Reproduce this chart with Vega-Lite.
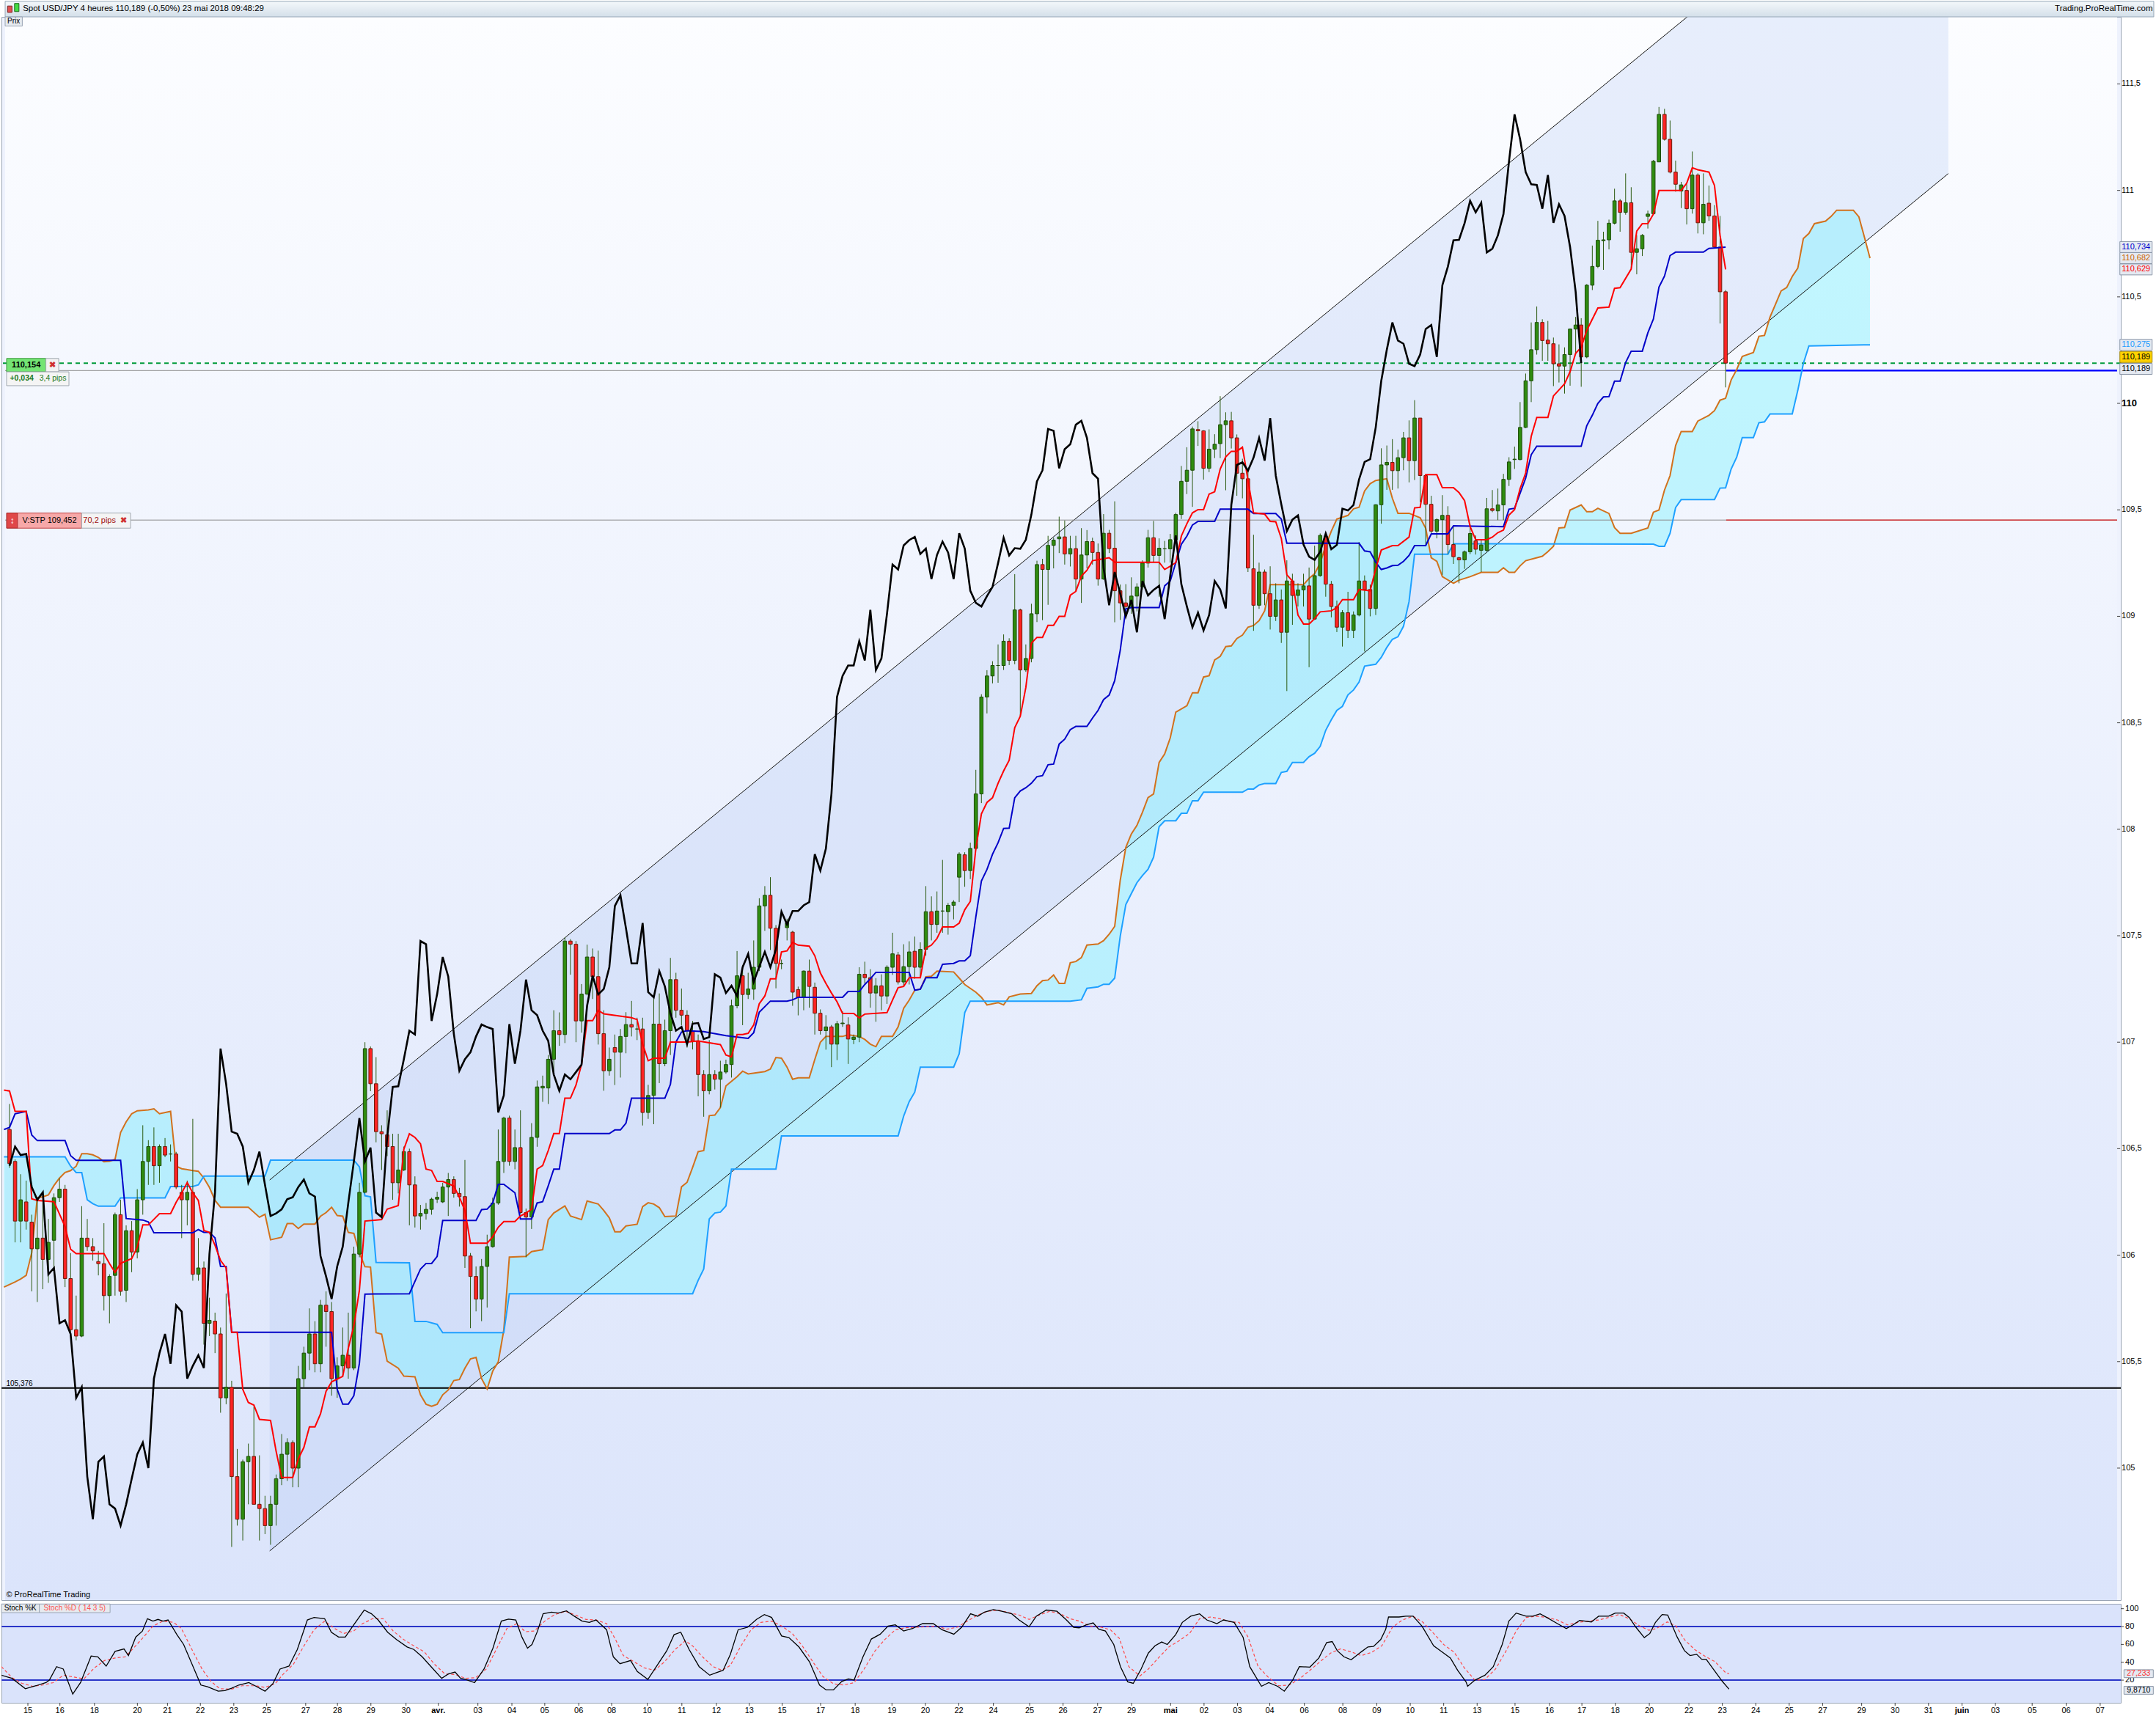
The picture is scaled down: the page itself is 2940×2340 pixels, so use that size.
{
"$schema":"https://vega.github.io/schema/vega-lite/v6.json",
"padding":0,
"background":"#ffffff",
"spacing":3,
"config":{"font":"Liberation Sans","view":{"stroke":"#9aa5b5"},"text":{"font":"Liberation Sans"}},
"datasets":{
"chan":[{"k":46.84,"lo":104.611,"hi":106.353},{"k":349.1,"lo":111.079,"hi":112.821}],
"yt":[{"v":105,"t":"105"},{"v":105.5,"t":"105,5"},{"v":106,"t":"106"},{"v":106.5,"t":"106,5"},{"v":107,"t":"107"},{"v":107.5,"t":"107,5"},{"v":108,"t":"108"},{"v":108.5,"t":"108,5"},{"v":109,"t":"109"},{"v":109.5,"t":"109,5"},{"v":110,"t":"110"},{"v":110.5,"t":"110,5"},{"v":111,"t":"111"},{"v":111.5,"t":"111,5"}],
"st":[{"v":20,"t":"20"},{"v":40,"t":"40"},{"v":60,"t":"60"},{"v":80,"t":"80"},{"v":100,"t":"100"}],
"xt":[{"k":3.95,"t":"15"},{"k":9.7,"t":"16"},{"k":15.9,"t":"18"},{"k":23.6,"t":"20"},{"k":29,"t":"21"},{"k":34.9,"t":"22"},{"k":40.9,"t":"23"},{"k":46.8,"t":"25"},{"k":53.8,"t":"27"},{"k":59.5,"t":"28"},{"k":65.5,"t":"29"},{"k":71.8,"t":"30"},{"k":77.6,"t":"avr."},{"k":84.7,"t":"03"},{"k":90.8,"t":"04"},{"k":96.7,"t":"05"},{"k":102.8,"t":"06"},{"k":108.7,"t":"08"},{"k":115.1,"t":"10"},{"k":121.3,"t":"11"},{"k":127.5,"t":"12"},{"k":133.4,"t":"13"},{"k":139.3,"t":"15"},{"k":146.2,"t":"17"},{"k":152.4,"t":"18"},{"k":159,"t":"19"},{"k":165,"t":"20"},{"k":171,"t":"22"},{"k":177.2,"t":"24"},{"k":183.7,"t":"25"},{"k":189.7,"t":"26"},{"k":195.9,"t":"27"},{"k":202,"t":"29"},{"k":209,"t":"mai"},{"k":215,"t":"02"},{"k":221,"t":"03"},{"k":226.8,"t":"04"},{"k":233,"t":"06"},{"k":239.9,"t":"08"},{"k":246,"t":"09"},{"k":252,"t":"10"},{"k":258,"t":"11"},{"k":264,"t":"13"},{"k":270.8,"t":"15"},{"k":277,"t":"16"},{"k":282.8,"t":"17"},{"k":288.8,"t":"18"},{"k":294.9,"t":"20"},{"k":302,"t":"22"},{"k":308,"t":"23"},{"k":314,"t":"24"},{"k":320,"t":"25"},{"k":326,"t":"27"},{"k":333,"t":"29"},{"k":339,"t":"30"},{"k":345,"t":"31"},{"k":351,"t":"juin"},{"k":357,"t":"03"},{"k":363.6,"t":"05"},{"k":369.7,"t":"06"},{"k":375.8,"t":"07"}],
"candles":[
{"k":0,"o":106.59,"h":106.71,"l":106.41,"c":106.43,"ck":106.42},
{"k":1,"o":106.44,"h":106.45,"l":106.06,"c":106.16,"ck":106.51},
{"k":2,"o":106.16,"h":106.38,"l":106.06,"c":106.26,"ck":106.47},
{"k":3,"o":106.25,"h":106.35,"l":106.12,"c":106.16,"ck":106.475},
{"k":4,"o":106.155,"h":106.19,"l":105.83,"c":106.03,"ck":106.32},
{"k":5,"o":106.03,"h":106.26,"l":105.78,"c":106.08,"ck":106.26},
{"k":6,"o":106.08,"h":106.29,"l":105.84,"c":105.98,"ck":106.295},
{"k":7,"o":105.98,"h":106.17,"l":105.87,"c":106.06,"ck":105.91},
{"k":8,"o":106.07,"h":106.29,"l":105.94,"c":106.27,"ck":105.94},
{"k":9,"o":106.27,"h":106.36,"l":106.25,"c":106.31,"ck":105.68},
{"k":10,"o":106.31,"h":106.33,"l":105.85,"c":105.89,"ck":105.694},
{"k":11,"o":105.89,"h":106.01,"l":105.64,"c":105.65,"ck":105.63},
{"k":12,"o":105.65,"h":105.81,"l":105.6,"c":105.62,"ck":105.33},
{"k":13,"o":105.62,"h":106.23,"l":105.615,"c":106.08,"ck":105.38},
{"k":14,"o":106.08,"h":106.17,"l":106.02,"c":106.04,"ck":104.96},
{"k":15,"o":106.04,"h":106.08,"l":105.975,"c":106.02,"ck":104.76},
{"k":16,"o":105.97,"h":106.02,"l":105.905,"c":105.96,"ck":105.03},
{"k":17,"o":105.96,"h":106.15,"l":105.74,"c":105.81,"ck":105.055},
{"k":18,"o":105.81,"h":105.91,"l":105.68,"c":105.9,"ck":104.83},
{"k":19,"o":105.905,"h":106.2,"l":105.81,"c":106.19,"ck":104.81},
{"k":20,"o":106.19,"h":106.26,"l":105.81,"c":105.83,"ck":104.73},
{"k":21,"o":105.835,"h":106.14,"l":105.78,"c":106.115,"ck":104.83},
{"k":22,"o":106.115,"h":106.16,"l":105.92,"c":106.015,"ck":104.95},
{"k":23,"o":106.015,"h":106.31,"l":105.985,"c":106.26,"ck":105.065},
{"k":24,"o":106.26,"h":106.61,"l":106.19,"c":106.44,"ck":105.12},
{"k":25,"o":106.44,"h":106.54,"l":106.33,"c":106.51,"ck":105.0},
{"k":26,"o":106.51,"h":106.6,"l":106.33,"c":106.42,"ck":105.42},
{"k":27,"o":106.42,"h":106.52,"l":106.34,"c":106.51,"ck":105.54},
{"k":28,"o":106.51,"h":106.55,"l":106.46,"c":106.47,"ck":105.63},
{"k":29,"o":106.475,"h":106.52,"l":106.44,"c":106.475,"ck":105.49},
{"k":30,"o":106.475,"h":106.485,"l":106.31,"c":106.32,"ck":105.765},
{"k":31,"o":106.295,"h":106.33,"l":106.08,"c":106.26,"ck":105.735},
{"k":32,"o":106.26,"h":106.35,"l":106.14,"c":106.295,"ck":105.42},
{"k":33,"o":106.295,"h":106.64,"l":105.88,"c":105.91,"ck":105.48},
{"k":34,"o":105.91,"h":106.08,"l":105.88,"c":105.94,"ck":105.53},
{"k":35,"o":105.94,"h":105.97,"l":105.58,"c":105.68,"ck":105.47},
{"k":36,"o":105.68,"h":105.8,"l":105.62,"c":105.694,"ck":106.005},
{"k":37,"o":105.69,"h":105.73,"l":105.54,"c":105.63,"ck":106.295},
{"k":38,"o":105.63,"h":105.66,"l":105.26,"c":105.33,"ck":106.97},
{"k":39,"o":105.33,"h":105.82,"l":105.3,"c":105.38,"ck":106.805},
{"k":40,"o":105.38,"h":105.41,"l":104.63,"c":104.96,"ck":106.58},
{"k":41,"o":104.96,"h":105.09,"l":104.73,"c":104.76,"ck":106.57},
{"k":42,"o":104.76,"h":105.04,"l":104.66,"c":105.03,"ck":106.51},
{"k":43,"o":105.03,"h":105.115,"l":104.83,"c":105.055,"ck":106.34},
{"k":44,"o":105.055,"h":105.29,"l":104.83,"c":104.83,"ck":106.4},
{"k":45,"o":104.83,"h":105.06,"l":104.66,"c":104.81,"ck":106.486},
{"k":46,"o":104.81,"h":104.87,"l":104.69,"c":104.73,"ck":106.33},
{"k":47,"o":104.73,"h":104.87,"l":104.64,"c":104.83,"ck":106.184},
{"k":48,"o":104.83,"h":104.97,"l":104.73,"c":104.95,"ck":106.196},
{"k":49,"o":104.95,"h":105.16,"l":104.92,"c":105.065,"ck":106.215},
{"k":50,"o":105.065,"h":105.14,"l":104.94,"c":105.12,"ck":106.263},
{"k":51,"o":105.12,"h":105.13,"l":104.91,"c":105.0,"ck":106.272},
{"k":52,"o":105.0,"h":105.48,"l":104.91,"c":105.42,"ck":106.32},
{"k":53,"o":105.42,"h":105.57,"l":105.38,"c":105.54,"ck":106.355},
{"k":54,"o":105.54,"h":105.75,"l":105.46,"c":105.63,"ck":106.29},
{"k":55,"o":105.63,"h":105.69,"l":105.45,"c":105.49,"ck":106.275},
{"k":56,"o":105.49,"h":105.79,"l":105.45,"c":105.765,"ck":105.996},
{"k":57,"o":105.765,"h":105.83,"l":105.57,"c":105.735,"ck":105.9},
{"k":58,"o":105.735,"h":105.78,"l":105.34,"c":105.42,"ck":105.794},
{"k":59,"o":105.42,"h":105.52,"l":105.33,"c":105.48,"ck":105.947},
{"k":60,"o":105.48,"h":105.66,"l":105.43,"c":105.53,"ck":106.04},
{"k":61,"o":105.53,"h":105.73,"l":105.42,"c":105.47,"ck":106.245},
{"k":62,"o":105.47,"h":106.04,"l":105.46,"c":106.005,"ck":106.44},
{"k":63,"o":106.005,"h":106.34,"l":105.99,"c":106.295,"ck":106.644},
{"k":64,"o":106.295,"h":107.0,"l":106.29,"c":106.97,"ck":106.44},
{"k":65,"o":106.97,"h":106.98,"l":106.77,"c":106.805,"ck":106.505},
{"k":66,"o":106.805,"h":106.93,"l":106.53,"c":106.58,"ck":106.2},
{"k":67,"o":106.58,"h":106.61,"l":106.4,"c":106.57,"ck":106.179},
{"k":68,"o":106.565,"h":106.68,"l":106.465,"c":106.51,"ck":106.553},
{"k":69,"o":106.51,"h":106.57,"l":106.26,"c":106.34,"ck":106.79},
{"k":70,"o":106.34,"h":106.57,"l":106.29,"c":106.4,"ck":106.793},
{"k":71,"o":106.4,"h":106.51,"l":106.395,"c":106.486,"ck":106.92},
{"k":72,"o":106.486,"h":106.5,"l":106.14,"c":106.33,"ck":107.054},
{"k":73,"o":106.33,"h":106.37,"l":106.13,"c":106.184,"ck":107.036},
{"k":74,"o":106.184,"h":106.236,"l":106.12,"c":106.196,"ck":107.475},
{"k":75,"o":106.196,"h":106.245,"l":106.167,"c":106.215,"ck":107.46},
{"k":76,"o":106.215,"h":106.27,"l":106.19,"c":106.263,"ck":107.1},
{"k":77,"o":106.263,"h":106.298,"l":106.245,"c":106.272,"ck":107.226},
{"k":78,"o":106.25,"h":106.34,"l":106.245,"c":106.32,"ck":107.4},
{"k":79,"o":106.32,"h":106.386,"l":106.184,"c":106.355,"ck":107.308},
{"k":80,"o":106.355,"h":106.37,"l":106.27,"c":106.29,"ck":107.04},
{"k":81,"o":106.29,"h":106.316,"l":106.228,"c":106.275,"ck":106.866},
{"k":82,"o":106.275,"h":106.447,"l":105.94,"c":105.996,"ck":106.92},
{"k":83,"o":105.996,"h":106.01,"l":105.657,"c":105.9,"ck":106.953},
{"k":84,"o":105.9,"h":105.947,"l":105.736,"c":105.794,"ck":107.027},
{"k":85,"o":105.794,"h":105.982,"l":105.69,"c":105.947,"ck":107.083},
{"k":86,"o":105.947,"h":106.096,"l":105.754,"c":106.04,"ck":107.071},
{"k":87,"o":106.04,"h":106.27,"l":106.035,"c":106.245,"ck":107.062},
{"k":88,"o":106.245,"h":106.59,"l":106.237,"c":106.44,"ck":106.67},
{"k":89,"o":106.44,"h":106.65,"l":106.386,"c":106.644,"ck":106.75},
{"k":90,"o":106.644,"h":106.655,"l":106.42,"c":106.44,"ck":107.085},
{"k":91,"o":106.44,"h":106.59,"l":106.403,"c":106.505,"ck":106.899},
{"k":92,"o":106.505,"h":106.68,"l":106.193,"c":106.2,"ck":107.054},
{"k":93,"o":106.2,"h":106.219,"l":105.99,"c":106.179,"ck":107.294},
{"k":94,"o":106.179,"h":106.62,"l":106.123,"c":106.553,"ck":107.15},
{"k":95,"o":106.553,"h":106.82,"l":106.509,"c":106.79,"ck":107.127},
{"k":96,"o":106.785,"h":106.843,"l":106.72,"c":106.793,"ck":107.054},
{"k":97,"o":106.785,"h":106.94,"l":106.71,"c":106.92,"ck":107.006},
{"k":98,"o":106.92,"h":107.15,"l":106.86,"c":107.054,"ck":106.848},
{"k":99,"o":107.054,"h":107.14,"l":106.983,"c":107.036,"ck":106.772},
{"k":100,"o":107.036,"h":107.493,"l":106.996,"c":107.475,"ck":106.848},
{"k":101,"o":107.475,"h":107.484,"l":107.317,"c":107.46,"ck":106.826},
{"k":102,"o":107.46,"h":107.475,"l":107.0,"c":107.1,"ck":106.86},
{"k":103,"o":107.1,"h":107.273,"l":107.045,"c":107.226,"ck":106.895},
{"k":104,"o":107.226,"h":107.458,"l":107.22,"c":107.4,"ck":107.171},
{"k":105,"o":107.4,"h":107.44,"l":107.203,"c":107.308,"ck":107.312},
{"k":106,"o":107.308,"h":107.43,"l":106.989,"c":107.04,"ck":107.224},
{"k":107,"o":107.04,"h":107.15,"l":106.772,"c":106.866,"ck":107.25},
{"k":108,"o":106.866,"h":106.975,"l":106.843,"c":106.92,"ck":107.352},
{"k":109,"o":106.975,"h":107.036,"l":106.799,"c":106.953,"ck":107.64},
{"k":110,"o":106.953,"h":107.062,"l":106.834,"c":107.027,"ck":107.69},
{"k":111,"o":107.027,"h":107.141,"l":106.948,"c":107.083,"ck":107.535},
{"k":112,"o":107.083,"h":107.194,"l":107.027,"c":107.071,"ck":107.37},
{"k":113,"o":107.062,"h":107.115,"l":107.01,"c":107.062,"ck":107.37},
{"k":114,"o":107.062,"h":107.115,"l":106.609,"c":106.67,"ck":107.56},
{"k":115,"o":106.67,"h":106.8,"l":106.64,"c":106.75,"ck":107.235},
{"k":116,"o":106.75,"h":107.21,"l":106.615,"c":107.085,"ck":107.211},
{"k":117,"o":107.085,"h":107.229,"l":106.808,"c":106.899,"ck":107.334},
{"k":118,"o":106.899,"h":107.106,"l":106.887,"c":107.054,"ck":107.262},
{"k":119,"o":107.054,"h":107.396,"l":106.94,"c":107.294,"ck":107.136},
{"k":120,"o":107.294,"h":107.326,"l":107.115,"c":107.15,"ck":107.054},
{"k":121,"o":107.15,"h":107.252,"l":107.08,"c":107.127,"ck":107.072},
{"k":122,"o":107.127,"h":107.15,"l":106.975,"c":107.054,"ck":106.991},
{"k":123,"o":107.054,"h":107.1,"l":106.966,"c":107.006,"ck":107.087},
{"k":124,"o":107.006,"h":107.036,"l":106.746,"c":106.848,"ck":107.09},
{"k":125,"o":106.848,"h":106.869,"l":106.65,"c":106.772,"ck":107.015},
{"k":126,"o":106.772,"h":107.01,"l":106.755,"c":106.848,"ck":107.024},
{"k":127,"o":106.848,"h":106.869,"l":106.778,"c":106.826,"ck":107.319},
{"k":128,"o":106.826,"h":106.913,"l":106.693,"c":106.86,"ck":107.303},
{"k":129,"o":106.86,"h":106.918,"l":106.852,"c":106.895,"ck":107.231},
{"k":130,"o":106.895,"h":107.2,"l":106.834,"c":107.171,"ck":107.265},
{"k":131,"o":107.171,"h":107.428,"l":107.159,"c":107.312,"ck":107.217},
{"k":132,"o":107.312,"h":107.361,"l":107.08,"c":107.224,"ck":107.352},
{"k":133,"o":107.224,"h":107.326,"l":107.203,"c":107.25,"ck":107.415},
{"k":134,"o":107.249,"h":107.478,"l":107.199,"c":107.352,"ck":107.283},
{"k":135,"o":107.352,"h":107.676,"l":107.334,"c":107.64,"ck":107.355},
{"k":136,"o":107.64,"h":107.733,"l":107.523,"c":107.69,"ck":107.424},
{"k":137,"o":107.69,"h":107.775,"l":107.433,"c":107.535,"ck":107.352},
{"k":138,"o":107.535,"h":107.55,"l":107.253,"c":107.37,"ck":107.436},
{"k":139,"o":107.37,"h":107.388,"l":107.343,"c":107.37,"ck":107.613},
{"k":140,"o":107.538,"h":107.58,"l":107.478,"c":107.56,"ck":107.553},
{"k":141,"o":107.517,"h":107.523,"l":107.171,"c":107.235,"ck":107.616},
{"k":142,"o":107.247,"h":107.261,"l":107.126,"c":107.211,"ck":107.616},
{"k":143,"o":107.211,"h":107.337,"l":107.15,"c":107.334,"ck":107.643},
{"k":144,"o":107.334,"h":107.388,"l":107.162,"c":107.262,"ck":107.658},
{"k":145,"o":107.258,"h":107.28,"l":107.036,"c":107.136,"ck":107.883},
{"k":146,"o":107.136,"h":107.154,"l":107.036,"c":107.054,"ck":107.806},
{"k":147,"o":107.054,"h":107.127,"l":106.965,"c":107.072,"ck":107.91},
{"k":148,"o":107.072,"h":107.081,"l":106.883,"c":106.991,"ck":108.166},
{"k":149,"o":106.991,"h":107.1,"l":106.916,"c":107.087,"ck":108.621},
{"k":150,"o":107.087,"h":107.145,"l":107.072,"c":107.09,"ck":108.72},
{"k":151,"o":107.081,"h":107.117,"l":106.898,"c":107.015,"ck":108.769},
{"k":152,"o":107.013,"h":107.036,"l":106.991,"c":107.024,"ck":108.769},
{"k":153,"o":107.024,"h":107.352,"l":107.0,"c":107.319,"ck":108.883},
{"k":154,"o":107.319,"h":107.378,"l":107.276,"c":107.303,"ck":108.793},
{"k":155,"o":107.303,"h":107.343,"l":107.162,"c":107.231,"ck":109.03},
{"k":156,"o":107.231,"h":107.301,"l":107.096,"c":107.265,"ck":108.748},
{"k":157,"o":107.265,"h":107.319,"l":107.15,"c":107.217,"ck":108.802},
{"k":158,"o":107.217,"h":107.361,"l":107.18,"c":107.352,"ck":109.012},
{"k":159,"o":107.352,"h":107.514,"l":107.316,"c":107.415,"ck":109.243},
{"k":160,"o":107.41,"h":107.424,"l":107.271,"c":107.283,"ck":109.22},
{"k":161,"o":107.283,"h":107.46,"l":107.262,"c":107.355,"ck":109.333},
{"k":162,"o":107.355,"h":107.474,"l":107.271,"c":107.424,"ck":109.358},
{"k":163,"o":107.427,"h":107.496,"l":107.298,"c":107.352,"ck":109.373},
{"k":164,"o":107.352,"h":107.469,"l":107.307,"c":107.436,"ck":109.293},
{"k":165,"o":107.436,"h":107.733,"l":107.406,"c":107.613,"ck":109.318},
{"k":166,"o":107.613,"h":107.685,"l":107.478,"c":107.553,"ck":109.175},
{"k":167,"o":107.553,"h":107.708,"l":107.514,"c":107.616,"ck":109.288},
{"k":168,"o":107.616,"h":107.856,"l":107.514,"c":107.616,"ck":109.351},
{"k":169,"o":107.613,"h":107.654,"l":107.505,"c":107.643,"ck":109.3},
{"k":170,"o":107.643,"h":107.667,"l":107.577,"c":107.658,"ck":109.175},
{"k":171,"o":107.775,"h":107.892,"l":107.658,"c":107.883,"ck":109.39},
{"k":172,"o":107.88,"h":107.892,"l":107.73,"c":107.806,"ck":109.318},
{"k":173,"o":107.806,"h":107.937,"l":107.766,"c":107.91,"ck":109.12},
{"k":174,"o":107.91,"h":108.279,"l":107.901,"c":108.166,"ck":109.063},
{"k":175,"o":108.166,"h":108.634,"l":108.123,"c":108.621,"ck":109.046},
{"k":176,"o":108.621,"h":108.747,"l":108.544,"c":108.72,"ck":109.095},
{"k":177,"o":108.72,"h":108.789,"l":108.685,"c":108.769,"ck":109.138},
{"k":178,"o":108.769,"h":108.868,"l":108.688,"c":108.769,"ck":109.25},
{"k":179,"o":108.769,"h":108.915,"l":108.748,"c":108.883,"ck":109.369},
{"k":180,"o":108.883,"h":108.897,"l":108.771,"c":108.793,"ck":109.286},
{"k":181,"o":108.793,"h":109.198,"l":108.775,"c":109.03,"ck":109.32},
{"k":182,"o":109.03,"h":109.036,"l":108.531,"c":108.748,"ck":109.317},
{"k":183,"o":108.748,"h":108.868,"l":108.739,"c":108.802,"ck":109.36},
{"k":184,"o":108.802,"h":109.059,"l":108.784,"c":109.012,"ck":109.478},
{"k":185,"o":109.012,"h":109.261,"l":108.973,"c":109.243,"ck":109.634},
{"k":186,"o":109.243,"h":109.27,"l":108.982,"c":109.22,"ck":109.686},
{"k":187,"o":109.22,"h":109.378,"l":109.054,"c":109.333,"ck":109.88},
{"k":188,"o":109.333,"h":109.369,"l":109.225,"c":109.358,"ck":109.871},
{"k":189,"o":109.364,"h":109.468,"l":109.297,"c":109.373,"ck":109.695},
{"k":190,"o":109.373,"h":109.45,"l":109.243,"c":109.293,"ck":109.785},
{"k":191,"o":109.293,"h":109.378,"l":109.234,"c":109.318,"ck":109.808},
{"k":192,"o":109.318,"h":109.378,"l":109.117,"c":109.175,"ck":109.9},
{"k":193,"o":109.175,"h":109.414,"l":109.063,"c":109.288,"ck":109.918},
{"k":194,"o":109.288,"h":109.405,"l":109.225,"c":109.351,"ck":109.838},
{"k":195,"o":109.351,"h":109.369,"l":109.243,"c":109.3,"ck":109.672},
{"k":196,"o":109.3,"h":109.342,"l":109.144,"c":109.175,"ck":109.646},
{"k":197,"o":109.175,"h":109.48,"l":109.171,"c":109.39,"ck":109.227},
{"k":198,"o":109.39,"h":109.406,"l":109.297,"c":109.318,"ck":109.052},
{"k":199,"o":109.32,"h":109.54,"l":108.972,"c":109.12,"ck":109.208},
{"k":200,"o":109.12,"h":109.149,"l":108.983,"c":109.063,"ck":109.106},
{"k":201,"o":109.063,"h":109.151,"l":108.995,"c":109.046,"ck":109.0},
{"k":202,"o":109.046,"h":109.183,"l":109.012,"c":109.095,"ck":109.077},
{"k":203,"o":109.095,"h":109.155,"l":109.023,"c":109.138,"ck":108.925},
{"k":204,"o":109.138,"h":109.263,"l":109.126,"c":109.25,"ck":109.166},
{"k":205,"o":109.25,"h":109.406,"l":109.229,"c":109.369,"ck":109.098},
{"k":206,"o":109.369,"h":109.448,"l":109.252,"c":109.286,"ck":109.124},
{"k":207,"o":109.286,"h":109.366,"l":109.092,"c":109.32,"ck":109.143},
{"k":208,"o":109.317,"h":109.354,"l":109.252,"c":109.317,"ck":108.987},
{"k":209,"o":109.317,"h":109.387,"l":109.252,"c":109.36,"ck":109.191},
{"k":210,"o":109.36,"h":109.486,"l":109.355,"c":109.478,"ck":109.38},
{"k":211,"o":109.478,"h":109.706,"l":109.457,"c":109.634,"ck":109.151},
{"k":212,"o":109.634,"h":109.794,"l":109.574,"c":109.686,"ck":109.046},
{"k":213,"o":109.686,"h":109.891,"l":109.514,"c":109.88,"ck":108.949},
{"k":214,"o":109.877,"h":109.916,"l":109.8,"c":109.871,"ck":109.017},
{"k":215,"o":109.871,"h":109.874,"l":109.642,"c":109.695,"ck":108.934},
{"k":216,"o":109.695,"h":109.878,"l":109.677,"c":109.785,"ck":109.006},
{"k":217,"o":109.785,"h":109.855,"l":109.743,"c":109.808,"ck":109.166},
{"k":218,"o":109.811,"h":110.034,"l":109.743,"c":109.9,"ck":109.126},
{"k":219,"o":109.9,"h":109.958,"l":109.592,"c":109.918,"ck":109.037},
{"k":220,"o":109.918,"h":109.96,"l":109.788,"c":109.838,"ck":109.524},
{"k":221,"o":109.838,"h":109.854,"l":109.566,"c":109.672,"ck":109.711},
{"k":222,"o":109.672,"h":109.74,"l":109.554,"c":109.646,"ck":109.723},
{"k":223,"o":109.646,"h":109.686,"l":109.208,"c":109.227,"ck":109.684},
{"k":224,"o":109.223,"h":109.383,"l":108.932,"c":109.052,"ck":109.745},
{"k":225,"o":109.052,"h":109.252,"l":109.035,"c":109.208,"ck":109.838},
{"k":226,"o":109.208,"h":109.22,"l":109.052,"c":109.106,"ck":109.731},
{"k":227,"o":109.106,"h":109.235,"l":108.938,"c":109.0,"ck":109.931},
{"k":228,"o":109.0,"h":109.155,"l":108.978,"c":109.077,"ck":109.661},
{"k":229,"o":109.077,"h":109.126,"l":108.875,"c":108.925,"ck":109.526},
{"k":230,"o":108.925,"h":109.263,"l":108.649,"c":109.166,"ck":109.4},
{"k":231,"o":109.166,"h":109.2,"l":108.96,"c":109.098,"ck":109.454},
{"k":232,"o":109.098,"h":109.155,"l":109.046,"c":109.124,"ck":109.474},
{"k":233,"o":109.124,"h":109.2,"l":109.046,"c":109.143,"ck":109.337},
{"k":234,"o":109.143,"h":109.229,"l":108.761,"c":108.987,"ck":109.28},
{"k":235,"o":108.987,"h":109.332,"l":108.983,"c":109.191,"ck":109.265},
{"k":236,"o":109.191,"h":109.389,"l":109.186,"c":109.38,"ck":109.303},
{"k":237,"o":109.377,"h":109.394,"l":109.092,"c":109.151,"ck":109.389},
{"k":238,"o":109.151,"h":109.166,"l":108.995,"c":109.046,"ck":109.315},
{"k":239,"o":109.046,"h":109.074,"l":108.926,"c":108.949,"ck":109.335},
{"k":240,"o":108.949,"h":109.029,"l":108.858,"c":109.017,"ck":109.505},
{"k":241,"o":109.017,"h":109.115,"l":108.898,"c":108.934,"ck":109.497},
{"k":242,"o":108.934,"h":109.023,"l":108.898,"c":109.006,"ck":109.523},
{"k":243,"o":109.006,"h":109.349,"l":109.0,"c":109.166,"ck":109.643},
{"k":244,"o":109.166,"h":109.192,"l":108.835,"c":109.126,"ck":109.725},
{"k":245,"o":109.126,"h":109.149,"l":109.0,"c":109.037,"ck":109.738},
{"k":246,"o":109.037,"h":109.526,"l":109.006,"c":109.524,"ck":109.887},
{"k":247,"o":109.524,"h":109.789,"l":109.435,"c":109.711,"ck":110.106},
{"k":248,"o":109.711,"h":109.802,"l":109.594,"c":109.723,"ck":110.252},
{"k":249,"o":109.723,"h":109.832,"l":109.594,"c":109.684,"ck":110.38},
{"k":250,"o":109.684,"h":109.783,"l":109.6,"c":109.745,"ck":110.295},
{"k":251,"o":109.745,"h":109.866,"l":109.686,"c":109.838,"ck":110.28},
{"k":252,"o":109.838,"h":109.92,"l":109.629,"c":109.731,"ck":110.186},
{"k":253,"o":109.731,"h":110.015,"l":109.64,"c":109.931,"ck":110.175},
{"k":254,"o":109.931,"h":109.931,"l":109.537,"c":109.661,"ck":110.229},
{"k":255,"o":109.661,"h":109.661,"l":109.337,"c":109.526,"ck":110.349},
{"k":256,"o":109.526,"h":109.566,"l":109.383,"c":109.4,"ck":110.368},
{"k":257,"o":109.4,"h":109.46,"l":109.366,"c":109.454,"ck":110.218},
{"k":258,"o":109.454,"h":109.569,"l":109.195,"c":109.474,"ck":110.555},
{"k":259,"o":109.474,"h":109.517,"l":109.292,"c":109.337,"ck":110.643},
{"k":260,"o":109.337,"h":109.421,"l":109.246,"c":109.28,"ck":110.766},
{"k":261,"o":109.275,"h":109.28,"l":109.155,"c":109.265,"ck":110.768},
{"k":262,"o":109.265,"h":109.309,"l":109.223,"c":109.303,"ck":110.846},
{"k":263,"o":109.303,"h":109.434,"l":109.292,"c":109.389,"ck":110.951},
{"k":264,"o":109.354,"h":109.38,"l":109.29,"c":109.315,"ck":110.897},
{"k":265,"o":109.31,"h":109.36,"l":109.208,"c":109.335,"ck":110.942},
{"k":266,"o":109.31,"h":109.556,"l":109.304,"c":109.505,"ck":110.709},
{"k":267,"o":109.505,"h":109.593,"l":109.489,"c":109.497,"ck":110.726},
{"k":268,"o":109.495,"h":109.6,"l":109.452,"c":109.523,"ck":110.789},
{"k":269,"o":109.523,"h":109.669,"l":109.452,"c":109.643,"ck":110.889},
{"k":270,"o":109.643,"h":109.747,"l":109.612,"c":109.725,"ck":111.137},
{"k":271,"o":109.736,"h":109.797,"l":109.692,"c":109.738,"ck":111.357},
{"k":272,"o":109.736,"h":110.006,"l":109.733,"c":109.887,"ck":111.24},
{"k":273,"o":109.887,"h":110.14,"l":109.884,"c":110.106,"ck":111.086},
{"k":274,"o":110.106,"h":110.38,"l":110.006,"c":110.252,"ck":111.029},
{"k":275,"o":110.252,"h":110.455,"l":110.229,"c":110.38,"ck":111.026},
{"k":276,"o":110.38,"h":110.395,"l":110.2,"c":110.295,"ck":110.914},
{"k":277,"o":110.297,"h":110.387,"l":110.2,"c":110.28,"ck":111.072},
{"k":278,"o":110.28,"h":110.309,"l":110.081,"c":110.186,"ck":110.848},
{"k":279,"o":110.186,"h":110.277,"l":110.098,"c":110.175,"ck":110.935},
{"k":280,"o":110.175,"h":110.263,"l":110.046,"c":110.229,"ck":110.88},
{"k":281,"o":110.229,"h":110.349,"l":110.083,"c":110.349,"ck":110.734},
{"k":282,"o":110.349,"h":110.406,"l":110.229,"c":110.368,"ck":110.524},
{"k":283,"o":110.368,"h":110.4,"l":110.078,"c":110.218,"ck":110.189},
{"k":284,"o":110.218,"h":110.56,"l":110.212,"c":110.555},
{"k":285,"o":110.555,"h":110.741,"l":110.532,"c":110.643},
{"k":286,"o":110.643,"h":110.857,"l":110.635,"c":110.766},
{"k":287,"o":110.764,"h":110.806,"l":110.627,"c":110.768},
{"k":288,"o":110.768,"h":110.863,"l":110.723,"c":110.846},
{"k":289,"o":110.846,"h":111.008,"l":110.84,"c":110.951},
{"k":290,"o":110.951,"h":110.96,"l":110.806,"c":110.897},
{"k":291,"o":110.897,"h":111.08,"l":110.886,"c":110.942},
{"k":292,"o":110.942,"h":111.015,"l":110.635,"c":110.709},
{"k":293,"o":110.709,"h":110.789,"l":110.606,"c":110.726},
{"k":294,"o":110.726,"h":110.795,"l":110.692,"c":110.789},
{"k":295,"o":110.878,"h":110.905,"l":110.821,"c":110.889},
{"k":296,"o":110.891,"h":111.143,"l":110.886,"c":111.137},
{"k":297,"o":111.134,"h":111.392,"l":111.134,"c":111.357},
{"k":298,"o":111.357,"h":111.383,"l":111.234,"c":111.24},
{"k":299,"o":111.24,"h":111.328,"l":111.08,"c":111.086},
{"k":300,"o":111.086,"h":111.14,"l":110.994,"c":111.029},
{"k":301,"o":110.997,"h":111.04,"l":110.917,"c":111.026},
{"k":302,"o":111.0,"h":111.029,"l":110.84,"c":110.914},
{"k":303,"o":110.914,"h":111.183,"l":110.891,"c":111.072},
{"k":304,"o":111.072,"h":111.08,"l":110.798,"c":110.848},
{"k":305,"o":110.848,"h":111.08,"l":110.794,"c":110.935},
{"k":306,"o":110.94,"h":111.023,"l":110.857,"c":110.88},
{"k":307,"o":110.88,"h":110.931,"l":110.729,"c":110.734},
{"k":308,"o":110.734,"h":110.88,"l":110.375,"c":110.524},
{"k":309,"o":110.524,"h":110.532,"l":110.075,"c":110.189}
],
"tk":[
{"k":-1,"v":106.775},{"k":0,"v":106.771},{"k":1,"v":106.675},{"k":3,"v":106.675},{"k":4,"v":106.265},{"k":5,"v":106.257},{"k":8,"v":106.251},{"k":10,"v":106.134},{"k":11,"v":106.028},{"k":12,"v":106.007},{"k":17,"v":106.007},{"k":18,"v":105.961},{"k":19,"v":105.919},{"k":20,"v":105.961},{"k":22,"v":105.984},{"k":23,"v":106.037},{"k":24,"v":106.142},{"k":25,"v":106.142},{"k":27,"v":106.195},{"k":29,"v":106.195},{"k":30,"v":106.248},{"k":31,"v":106.292},{"k":32,"v":106.341},{"k":33,"v":106.292},{"k":34,"v":106.257},{"k":35,"v":106.116},{"k":36,"v":106.107},{"k":37,"v":106.046},{"k":38,"v":105.975},{"k":39,"v":105.94},{"k":40,"v":105.638},{"k":41,"v":105.638},{"k":42,"v":105.37},{"k":43,"v":105.308},{"k":44,"v":105.296},{"k":45,"v":105.229},{"k":47,"v":105.224},{"k":48,"v":105.08},{"k":49,"v":104.956},{"k":51,"v":104.956},{"k":52,"v":105.044},{"k":53,"v":105.097},{"k":54,"v":105.194},{"k":55,"v":105.194},{"k":56,"v":105.255},{"k":57,"v":105.361},{"k":58,"v":105.405},{"k":60,"v":105.431},{"k":61,"v":105.563},{"k":62,"v":105.668},{"k":63,"v":105.835},{"k":64,"v":106.16},{"k":67,"v":106.167},{"k":68,"v":106.216},{"k":70,"v":106.233},{"k":71,"v":106.497},{"k":72,"v":106.57},{"k":73,"v":106.553},{"k":74,"v":106.523},{"k":75,"v":106.404},{"k":76,"v":106.398},{"k":77,"v":106.346},{"k":78,"v":106.346},{"k":80,"v":106.325},{"k":81,"v":106.272},{"k":82,"v":106.21},{"k":83,"v":106.056},{"k":86,"v":106.056},{"k":87,"v":106.087},{"k":88,"v":106.131},{"k":89,"v":106.158},{"k":91,"v":106.158},{"k":92,"v":106.184},{"k":93,"v":106.198},{"k":94,"v":106.216},{"k":95,"v":106.404},{"k":96,"v":106.421},{"k":97,"v":106.491},{"k":98,"v":106.571},{"k":99,"v":106.571},{"k":100,"v":106.737},{"k":101,"v":106.737},{"k":102,"v":106.799},{"k":103,"v":106.896},{"k":104,"v":107.101},{"k":105,"v":107.101},{"k":106,"v":107.15},{"k":107,"v":107.133},{"k":112,"v":107.115},{"k":113,"v":107.106},{"k":114,"v":106.992},{"k":115,"v":106.913},{"k":116,"v":106.925},{"k":118,"v":106.925},{"k":119,"v":107.001},{"k":122,"v":107.001},{"k":124,"v":107.006},{"k":128,"v":106.989},{"k":129,"v":106.94},{"k":130,"v":106.931},{"k":131,"v":107.036},{"k":132,"v":107.036},{"k":133,"v":107.042},{"k":134,"v":107.081},{"k":135,"v":107.181},{"k":136,"v":107.217},{"k":137,"v":107.298},{"k":138,"v":107.298},{"k":139,"v":107.424},{"k":140,"v":107.429},{"k":141,"v":107.469},{"k":142,"v":107.456},{"k":144,"v":107.451},{"k":145,"v":107.406},{"k":146,"v":107.325},{"k":147,"v":107.276},{"k":148,"v":107.231},{"k":149,"v":107.19},{"k":150,"v":107.135},{"k":152,"v":107.135},{"k":153,"v":107.114},{"k":154,"v":107.132},{"k":158,"v":107.139},{"k":159,"v":107.198},{"k":160,"v":107.256},{"k":161,"v":107.262},{"k":162,"v":107.303},{"k":164,"v":107.303},{"k":165,"v":107.442},{"k":166,"v":107.456},{"k":167,"v":107.487},{"k":168,"v":107.541},{"k":170,"v":107.541},{"k":171,"v":107.559},{"k":172,"v":107.622},{"k":173,"v":107.661},{"k":174,"v":107.91},{"k":175,"v":108.072},{"k":176,"v":108.126},{"k":177,"v":108.148},{"k":178,"v":108.216},{"k":179,"v":108.274},{"k":180,"v":108.324},{"k":181,"v":108.477},{"k":182,"v":108.531},{"k":183,"v":108.666},{"k":184,"v":108.874},{"k":185,"v":108.901},{"k":186,"v":108.901},{"k":187,"v":108.958},{"k":188,"v":108.958},{"k":189,"v":109.0},{"k":190,"v":109.0},{"k":191,"v":109.099},{"k":192,"v":109.117},{"k":193,"v":109.189},{"k":194,"v":109.216},{"k":195,"v":109.261},{"k":198,"v":109.275},{"k":199,"v":109.254},{"k":207,"v":109.254},{"k":208,"v":109.22},{"k":209,"v":109.235},{"k":210,"v":109.252},{"k":211,"v":109.377},{"k":212,"v":109.435},{"k":213,"v":109.486},{"k":214,"v":109.501},{"k":215,"v":109.501},{"k":216,"v":109.574},{"k":217,"v":109.585},{"k":218,"v":109.692},{"k":219,"v":109.749},{"k":220,"v":109.775},{"k":221,"v":109.775},{"k":222,"v":109.794},{"k":223,"v":109.64},{"k":224,"v":109.486},{"k":226,"v":109.48},{"k":227,"v":109.446},{"k":228,"v":109.444},{"k":229,"v":109.366},{"k":230,"v":109.195},{"k":231,"v":109.166},{"k":232,"v":109.006},{"k":233,"v":108.964},{"k":234,"v":108.964},{"k":235,"v":108.989},{"k":236,"v":109.021},{"k":238,"v":109.026},{"k":239,"v":109.041},{"k":240,"v":109.078},{"k":242,"v":109.078},{"k":243,"v":109.126},{"k":245,"v":109.12},{"k":246,"v":109.223},{"k":247,"v":109.311},{"k":249,"v":109.332},{"k":250,"v":109.332},{"k":252,"v":109.372},{"k":253,"v":109.509},{"k":254,"v":109.512},{"k":255,"v":109.665},{"k":257,"v":109.665},{"k":258,"v":109.604},{"k":260,"v":109.604},{"k":261,"v":109.581},{"k":262,"v":109.543},{"k":263,"v":109.421},{"k":264,"v":109.36},{"k":266,"v":109.36},{"k":267,"v":109.372},{"k":268,"v":109.393},{"k":269,"v":109.405},{"k":270,"v":109.476},{"k":271,"v":109.501},{"k":272,"v":109.6},{"k":273,"v":109.673},{"k":274,"v":109.845},{"k":275,"v":109.934},{"k":277,"v":109.934},{"k":278,"v":110.035},{"k":280,"v":110.092},{"k":281,"v":110.149},{"k":282,"v":110.235},{"k":283,"v":110.263},{"k":284,"v":110.343},{"k":286,"v":110.448},{"k":288,"v":110.452},{"k":289,"v":110.54},{"k":290,"v":110.543},{"k":292,"v":110.631},{"k":293,"v":110.809},{"k":294,"v":110.844},{"k":295,"v":110.844},{"k":296,"v":110.889},{"k":297,"v":111.0},{"k":301,"v":111.0},{"k":302,"v":111.034},{"k":303,"v":111.106},{"k":304,"v":111.097},{"k":306,"v":111.086},{"k":307,"v":111.023},{"k":308,"v":110.789},{"k":309,"v":110.629}
],
"kj":[
{"k":-1,"v":106.59},{"k":0,"v":106.6},{"k":1,"v":106.664},{"k":3,"v":106.675},{"k":4,"v":106.564},{"k":5,"v":106.538},{"k":10,"v":106.538},{"k":11,"v":106.467},{"k":12,"v":106.445},{"k":20,"v":106.445},{"k":21,"v":106.172},{"k":24,"v":106.165},{"k":25,"v":106.156},{"k":26,"v":106.105},{"k":33,"v":106.105},{"k":34,"v":106.12},{"k":35,"v":106.107},{"k":36,"v":106.107},{"k":37,"v":106.081},{"k":38,"v":105.947},{"k":39,"v":105.947},{"k":40,"v":105.638},{"k":58,"v":105.638},{"k":59,"v":105.37},{"k":60,"v":105.3},{"k":61,"v":105.3},{"k":62,"v":105.34},{"k":63,"v":105.492},{"k":64,"v":105.817},{"k":72,"v":105.819},{"k":73,"v":105.877},{"k":74,"v":105.935},{"k":75,"v":105.961},{"k":76,"v":105.961},{"k":77,"v":105.994},{"k":78,"v":106.163},{"k":84,"v":106.163},{"k":85,"v":106.214},{"k":86,"v":106.216},{"k":87,"v":106.245},{"k":88,"v":106.333},{"k":89,"v":106.333},{"k":91,"v":106.293},{"k":92,"v":106.17},{"k":94,"v":106.17},{"k":95,"v":106.245},{"k":96,"v":106.251},{"k":97,"v":106.325},{"k":98,"v":106.404},{"k":99,"v":106.404},{"k":100,"v":106.571},{"k":108,"v":106.571},{"k":109,"v":106.588},{"k":110,"v":106.588},{"k":111,"v":106.62},{"k":112,"v":106.737},{"k":118,"v":106.737},{"k":119,"v":106.802},{"k":120,"v":107.001},{"k":121,"v":107.048},{"k":122,"v":107.054},{"k":125,"v":107.05},{"k":129,"v":107.031},{"k":133,"v":107.018},{"k":134,"v":107.045},{"k":135,"v":107.141},{"k":137,"v":107.193},{"k":140,"v":107.193},{"k":141,"v":107.199},{"k":142,"v":107.211},{"k":150,"v":107.211},{"k":151,"v":107.238},{"k":153,"v":107.238},{"k":154,"v":107.271},{"k":155,"v":107.298},{"k":156,"v":107.328},{"k":162,"v":107.328},{"k":163,"v":107.244},{"k":164,"v":107.249},{"k":165,"v":107.303},{"k":167,"v":107.303},{"k":168,"v":107.366},{"k":170,"v":107.37},{"k":171,"v":107.382},{"k":172,"v":107.382},{"k":173,"v":107.406},{"k":174,"v":107.589},{"k":175,"v":107.757},{"k":176,"v":107.811},{"k":177,"v":107.883},{"k":178,"v":107.937},{"k":179,"v":108.004},{"k":180,"v":108.005},{"k":181,"v":108.148},{"k":182,"v":108.18},{"k":183,"v":108.195},{"k":184,"v":108.216},{"k":185,"v":108.247},{"k":186,"v":108.252},{"k":187,"v":108.303},{"k":188,"v":108.306},{"k":189,"v":108.4},{"k":190,"v":108.423},{"k":191,"v":108.468},{"k":192,"v":108.483},{"k":194,"v":108.483},{"k":195,"v":108.522},{"k":196,"v":108.558},{"k":197,"v":108.609},{"k":198,"v":108.63},{"k":199,"v":108.698},{"k":200,"v":108.841},{"k":201,"v":109.035},{"k":202,"v":109.041},{"k":207,"v":109.041},{"k":208,"v":109.143},{"k":209,"v":109.166},{"k":210,"v":109.252},{"k":211,"v":109.338},{"k":212,"v":109.377},{"k":213,"v":109.429},{"k":214,"v":109.446},{"k":217,"v":109.446},{"k":218,"v":109.503},{"k":223,"v":109.503},{"k":224,"v":109.483},{"k":228,"v":109.483},{"k":229,"v":109.457},{"k":230,"v":109.343},{"k":243,"v":109.343},{"k":244,"v":109.307},{"k":245,"v":109.303},{"k":246,"v":109.254},{"k":247,"v":109.22},{"k":248,"v":109.227},{"k":249,"v":109.238},{"k":250,"v":109.24},{"k":251,"v":109.258},{"k":252,"v":109.286},{"k":253,"v":109.332},{"k":255,"v":109.332},{"k":256,"v":109.387},{"k":259,"v":109.387},{"k":260,"v":109.425},{"k":269,"v":109.421},{"k":270,"v":109.503},{"k":271,"v":109.507},{"k":273,"v":109.649},{"k":274,"v":109.759},{"k":275,"v":109.799},{"k":283,"v":109.799},{"k":284,"v":109.895},{"k":285,"v":109.944},{"k":286,"v":110.0},{"k":287,"v":110.03},{"k":288,"v":110.032},{"k":289,"v":110.104},{"k":290,"v":110.104},{"k":291,"v":110.192},{"k":292,"v":110.245},{"k":294,"v":110.245},{"k":295,"v":110.331},{"k":296,"v":110.396},{"k":297,"v":110.546},{"k":298,"v":110.598},{"k":299,"v":110.694},{"k":300,"v":110.71},{"k":305,"v":110.71},{"k":306,"v":110.728},{"k":309,"v":110.734}
],
"sen":[
{"s":"a","k":-1,"v":105.85,"n":-1},{"s":"a","k":1,"v":105.874,"n":1},{"s":"a","k":2,"v":105.888,"n":2},{"s":"a","k":3,"v":105.905,"n":3},{"s":"a","k":4,"v":106.011,"n":4},{"s":"a","k":5,"v":106.269,"n":5},{"s":"a","k":6,"v":106.274,"n":6},{"s":"a","k":7,"v":106.283,"n":7},{"s":"a","k":8,"v":106.327,"n":8},{"s":"a","k":9,"v":106.362,"n":9},{"s":"a","k":10,"v":106.388,"n":10},{"s":"a","k":11,"v":106.397,"n":11},{"s":"a","k":12,"v":106.418,"n":12},{"s":"a","k":13,"v":106.476,"n":13},{"s":"a","k":14,"v":106.476,"n":14},{"s":"a","k":15,"v":106.471,"n":15},{"s":"a","k":16,"v":106.459,"n":16},{"s":"a","k":17,"v":106.439,"n":17},{"s":"a","k":18,"v":106.441,"n":18},{"s":"a","k":19,"v":106.45,"n":19},{"s":"a","k":20,"v":106.576,"n":20},{"s":"a","k":21,"v":106.626,"n":21},{"s":"a","k":22,"v":106.664,"n":22},{"s":"a","k":23,"v":106.678,"n":23},{"s":"a","k":25,"v":106.682,"n":25},{"s":"a","k":26,"v":106.687,"n":26},{"s":"a","k":27,"v":106.664,"n":27},{"s":"a","k":29,"v":106.675,"n":29},{"s":"a","k":30,"v":106.418,"n":30},{"s":"a","k":31,"v":106.406,"n":31},{"s":"a","k":33,"v":106.397,"n":33},{"s":"a","k":34,"v":106.394,"n":34},{"s":"a","k":35,"v":106.362,"n":35},{"s":"a","k":36,"v":106.318,"n":36},{"s":"a","k":37,"v":106.257,"n":37},{"s":"a","k":38,"v":106.225,"n":38},{"s":"a","k":43,"v":106.225,"n":43},{"s":"a","k":45,"v":106.178,"n":45},{"s":"a","k":46,"v":106.192,"n":46},{"s":"a","k":47,"v":106.072,"n":47},{"s":"a","k":49,"v":106.084,"n":49},{"s":"a","k":50,"v":106.148,"n":50},{"s":"a","k":51,"v":106.148,"n":51},{"s":"a","k":52,"v":106.125,"n":52},{"s":"a","k":53,"v":106.146,"n":53},{"s":"a","k":55,"v":106.146,"n":55},{"s":"a","k":56,"v":106.183,"n":56},{"s":"a","k":57,"v":106.2,"n":57},{"s":"a","k":58,"v":106.225,"n":58},{"s":"a","k":59,"v":106.186,"n":59},{"s":"a","k":60,"v":106.183,"n":60},{"s":"a","k":61,"v":106.107,"n":61},{"s":"a","k":62,"v":106.102,"n":62},{"s":"a","k":63,"v":106.011,"n":63},{"s":"a","k":64,"v":105.946,"n":64},{"s":"a","k":65,"v":105.944,"n":65},{"s":"a","k":66,"v":105.636,"n":66},{"s":"a","k":67,"v":105.629,"n":67},{"s":"a","k":68,"v":105.502,"n":68},{"s":"a","k":70,"v":105.469,"n":70},{"s":"a","k":71,"v":105.432,"n":71},{"s":"a","k":73,"v":105.429,"n":73},{"s":"a","k":74,"v":105.344,"n":74},{"s":"a","k":75,"v":105.3,"n":75},{"s":"a","k":76,"v":105.29,"n":76},{"s":"a","k":77,"v":105.3,"n":77},{"s":"a","k":78,"v":105.344,"n":78},{"s":"a","k":79,"v":105.367,"n":79},{"s":"a","k":80,"v":105.411,"n":80},{"s":"a","k":81,"v":105.416,"n":81},{"s":"a","k":82,"v":105.469,"n":82},{"s":"a","k":83,"v":105.513,"n":83},{"s":"a","k":84,"v":105.52,"n":84},{"s":"a","k":85,"v":105.42,"n":85},{"s":"a","k":86,"v":105.372,"n":86},{"s":"a","k":87,"v":105.455,"n":87},{"s":"a","k":88,"v":105.499,"n":88},{"s":"a","k":89,"v":105.648,"n":89},{"s":"a","k":90,"v":105.991,"n":90},{"s":"a","k":93,"v":105.994,"n":93},{"s":"a","k":94,"v":106.017,"n":94},{"s":"a","k":96,"v":106.026,"n":96},{"s":"a","k":97,"v":106.167,"n":97},{"s":"a","k":98,"v":106.198,"n":98},{"s":"a","k":100,"v":106.231,"n":100},{"s":"a","k":101,"v":106.184,"n":101},{"s":"a","k":103,"v":106.167,"n":103},{"s":"a","k":104,"v":106.254,"n":104},{"s":"a","k":106,"v":106.24,"n":106},{"s":"a","k":107,"v":106.21,"n":107},{"s":"a","k":108,"v":106.175,"n":108},{"s":"a","k":109,"v":106.11,"n":109},{"s":"a","k":110,"v":106.11,"n":110},{"s":"a","k":111,"v":106.137,"n":111},{"s":"a","k":113,"v":106.145,"n":113},{"s":"a","k":114,"v":106.228,"n":114},{"s":"a","k":115,"v":106.246,"n":115},{"s":"a","k":116,"v":106.24,"n":116},{"s":"a","k":117,"v":106.223,"n":117},{"s":"a","k":118,"v":106.181,"n":118},{"s":"a","k":120,"v":106.184,"n":120},{"s":"a","k":121,"v":106.321,"n":121},{"s":"a","k":122,"v":106.342,"n":122},{"s":"a","k":123,"v":106.412,"n":123},{"s":"a","k":124,"v":106.486,"n":124},{"s":"a","k":125,"v":106.491,"n":125},{"s":"a","k":126,"v":106.655,"n":126},{"s":"a","k":127,"v":106.658,"n":127},{"s":"a","k":128,"v":106.693,"n":128},{"s":"a","k":129,"v":106.795,"n":129},{"s":"a","k":131,"v":106.838,"n":131},{"s":"a","k":132,"v":106.864,"n":132},{"s":"a","k":133,"v":106.851,"n":133},{"s":"a","k":136,"v":106.862,"n":136},{"s":"a","k":137,"v":106.874,"n":137},{"s":"a","k":138,"v":106.928,"n":138},{"s":"a","k":139,"v":106.925,"n":139},{"s":"a","k":140,"v":106.883,"n":140},{"s":"a","k":141,"v":106.826,"n":141},{"s":"a","k":142,"v":106.833,"n":142},{"s":"a","k":144,"v":106.833,"n":144},{"s":"a","k":145,"v":106.919,"n":145},{"s":"a","k":146,"v":107.0,"n":146},{"s":"a","k":147,"v":107.027,"n":147},{"s":"a","k":150,"v":107.027,"n":150},{"s":"a","k":151,"v":107.035,"n":151},{"s":"a","k":153,"v":107.027,"n":153},{"s":"a","k":154,"v":107.013,"n":154},{"s":"a","k":155,"v":106.991,"n":155},{"s":"a","k":156,"v":106.979,"n":156},{"s":"a","k":157,"v":107.027,"n":157},{"s":"a","k":159,"v":107.027,"n":159},{"s":"a","k":160,"v":107.072,"n":160},{"s":"a","k":161,"v":107.159,"n":161},{"s":"a","k":162,"v":107.198,"n":162},{"s":"a","k":163,"v":107.244,"n":163},{"s":"a","k":164,"v":107.249,"n":164},{"s":"a","k":165,"v":107.307,"n":165},{"s":"a","k":166,"v":107.31,"n":166},{"s":"a","k":167,"v":107.334,"n":167},{"s":"a","k":170,"v":107.33,"n":170},{"s":"a","k":171,"v":107.301,"n":171},{"s":"a","k":172,"v":107.271,"n":172},{"s":"a","k":173,"v":107.253,"n":173},{"s":"a","k":174,"v":107.235,"n":174},{"s":"a","k":175,"v":107.211,"n":175},{"s":"a","k":176,"v":107.175,"n":176},{"s":"a","k":178,"v":107.186,"n":178},{"s":"a","k":179,"v":107.175,"n":179},{"s":"a","k":180,"v":107.213,"n":180},{"s":"a","k":182,"v":107.226,"n":182},{"s":"a","k":184,"v":107.229,"n":184},{"s":"a","k":185,"v":107.265,"n":185},{"s":"a","k":186,"v":107.289,"n":186},{"s":"a","k":187,"v":107.292,"n":187},{"s":"a","k":188,"v":107.316,"n":188},{"s":"a","k":189,"v":107.276,"n":189},{"s":"a","k":190,"v":107.276,"n":190},{"s":"a","k":191,"v":107.373,"n":191},{"s":"a","k":192,"v":107.379,"n":192},{"s":"a","k":193,"v":107.397,"n":193},{"s":"a","k":194,"v":107.456,"n":194},{"s":"a","k":196,"v":107.461,"n":196},{"s":"a","k":197,"v":107.477,"n":197},{"s":"a","k":198,"v":107.507,"n":198},{"s":"a","k":199,"v":107.544,"n":199},{"s":"a","k":200,"v":107.761,"n":200},{"s":"a","k":201,"v":107.915,"n":201},{"s":"a","k":202,"v":107.978,"n":202},{"s":"a","k":203,"v":108.018,"n":203},{"s":"a","k":204,"v":108.08,"n":204},{"s":"a","k":205,"v":108.149,"n":205},{"s":"a","k":206,"v":108.166,"n":206},{"s":"a","k":207,"v":108.314,"n":207},{"s":"a","k":208,"v":108.354,"n":208},{"s":"a","k":209,"v":108.429,"n":209},{"s":"a","k":210,"v":108.55,"n":210},{"s":"a","k":212,"v":108.58,"n":212},{"s":"a","k":213,"v":108.641,"n":213},{"s":"a","k":214,"v":108.641,"n":214},{"s":"a","k":215,"v":108.715,"n":215},{"s":"a","k":216,"v":108.721,"n":216},{"s":"a","k":217,"v":108.795,"n":217},{"s":"a","k":218,"v":108.812,"n":218},{"s":"a","k":219,"v":108.858,"n":219},{"s":"a","k":220,"v":108.861,"n":220},{"s":"a","k":221,"v":108.896,"n":221},{"s":"a","k":222,"v":108.912,"n":222},{"s":"a","k":223,"v":108.949,"n":223},{"s":"a","k":224,"v":108.957,"n":224},{"s":"a","k":225,"v":108.98,"n":225},{"s":"a","k":226,"v":109.026,"n":226},{"s":"a","k":227,"v":109.149,"n":227},{"s":"a","k":233,"v":109.149,"n":233},{"s":"a","k":234,"v":109.178,"n":234},{"s":"a","k":235,"v":109.2,"n":235},{"s":"a","k":236,"v":109.25,"n":236},{"s":"a","k":237,"v":109.332,"n":237},{"s":"a","k":238,"v":109.4,"n":238},{"s":"a","k":239,"v":109.457,"n":239},{"s":"a","k":241,"v":109.474,"n":241},{"s":"a","k":242,"v":109.505,"n":242},{"s":"a","k":243,"v":109.512,"n":243},{"s":"a","k":244,"v":109.589,"n":244},{"s":"a","k":245,"v":109.623,"n":245},{"s":"a","k":246,"v":109.638,"n":246},{"s":"a","k":248,"v":109.646,"n":248},{"s":"a","k":249,"v":109.554,"n":249},{"s":"a","k":250,"v":109.484,"n":250},{"s":"a","k":252,"v":109.484,"n":252},{"s":"a","k":254,"v":109.463,"n":254},{"s":"a","k":255,"v":109.414,"n":255},{"s":"a","k":256,"v":109.275,"n":256},{"s":"a","k":257,"v":109.258,"n":257},{"s":"a","k":258,"v":109.186,"n":258},{"s":"a","k":260,"v":109.155,"n":260},{"s":"a","k":261,"v":109.17,"n":261},{"s":"a","k":263,"v":109.186,"n":263},{"s":"a","k":265,"v":109.206,"n":265},{"s":"a","k":268,"v":109.206,"n":268},{"s":"a","k":269,"v":109.228,"n":269},{"s":"a","k":270,"v":109.206,"n":270},{"s":"a","k":271,"v":109.206,"n":271},{"s":"a","k":272,"v":109.237,"n":272},{"s":"a","k":273,"v":109.261,"n":273},{"s":"a","k":276,"v":109.282,"n":276},{"s":"a","k":277,"v":109.304,"n":277},{"s":"a","k":278,"v":109.329,"n":278},{"s":"a","k":279,"v":109.415,"n":279},{"s":"a","k":280,"v":109.417,"n":280},{"s":"a","k":281,"v":109.499,"n":281},{"s":"a","k":283,"v":109.523,"n":283},{"s":"a","k":284,"v":109.491,"n":284},{"s":"a","k":285,"v":109.491,"n":285},{"s":"a","k":286,"v":109.507,"n":286},{"s":"a","k":288,"v":109.483,"n":288},{"s":"a","k":289,"v":109.417,"n":289},{"s":"a","k":290,"v":109.39,"n":290},{"s":"a","k":292,"v":109.39,"n":292},{"s":"a","k":295,"v":109.415,"n":295},{"s":"a","k":296,"v":109.489,"n":296},{"s":"a","k":297,"v":109.499,"n":297},{"s":"a","k":298,"v":109.593,"n":298},{"s":"a","k":299,"v":109.661,"n":299},{"s":"a","k":300,"v":109.802,"n":300},{"s":"a","k":301,"v":109.868,"n":301},{"s":"a","k":303,"v":109.868,"n":303},{"s":"a","k":304,"v":109.917,"n":304},{"s":"a","k":306,"v":109.944,"n":306},{"s":"a","k":307,"v":109.966,"n":307},{"s":"a","k":308,"v":110.015,"n":308},{"s":"a","k":309,"v":110.024,"n":309},{"s":"a","k":310,"v":110.11,"n":310},{"s":"a","k":311,"v":110.159,"n":311},{"s":"a","k":312,"v":110.22,"n":312},{"s":"a","k":314,"v":110.239,"n":314},{"s":"a","k":315,"v":110.315,"n":315},{"s":"a","k":316,"v":110.319,"n":316},{"s":"a","k":317,"v":110.405,"n":317},{"s":"a","k":318,"v":110.466,"n":318},{"s":"a","k":319,"v":110.528,"n":319},{"s":"a","k":320,"v":110.544,"n":320},{"s":"a","k":321,"v":110.596,"n":321},{"s":"a","k":322,"v":110.635,"n":322},{"s":"a","k":323,"v":110.774,"n":323},{"s":"a","k":324,"v":110.798,"n":324},{"s":"a","k":325,"v":110.844,"n":325},{"s":"a","k":327,"v":110.856,"n":327},{"s":"a","k":328,"v":110.878,"n":328},{"s":"a","k":329,"v":110.907,"n":329},{"s":"a","k":332,"v":110.907,"n":332},{"s":"a","k":333,"v":110.876,"n":333},{"s":"a","k":334,"v":110.78,"n":334},{"s":"a","k":335,"v":110.682,"n":335},
{"s":"b","k":335,"v":110.275,"n":665},{"s":"b","k":324,"v":110.27,"n":676},{"s":"b","k":323,"v":110.187,"n":677},{"s":"b","k":322,"v":110.061,"n":678},{"s":"b","k":321,"v":109.95,"n":679},{"s":"b","k":317,"v":109.95,"n":683},{"s":"b","k":316,"v":109.913,"n":684},{"s":"b","k":315,"v":109.909,"n":685},{"s":"b","k":314,"v":109.839,"n":686},{"s":"b","k":312,"v":109.839,"n":688},{"s":"b","k":311,"v":109.747,"n":689},{"s":"b","k":310,"v":109.692,"n":690},{"s":"b","k":309,"v":109.603,"n":691},{"s":"b","k":308,"v":109.602,"n":692},{"s":"b","k":307,"v":109.548,"n":693},{"s":"b","k":301,"v":109.548,"n":699},{"s":"b","k":300,"v":109.511,"n":700},{"s":"b","k":299,"v":109.39,"n":701},{"s":"b","k":298,"v":109.329,"n":702},{"s":"b","k":297,"v":109.329,"n":703},{"s":"b","k":296,"v":109.339,"n":704},{"s":"b","k":260,"v":109.341,"n":740},{"s":"b","k":259,"v":109.292,"n":741},{"s":"b","k":253,"v":109.292,"n":747},{"s":"b","k":252,"v":109.069,"n":748},{"s":"b","k":251,"v":108.953,"n":749},{"s":"b","k":250,"v":108.904,"n":750},{"s":"b","k":249,"v":108.892,"n":751},{"s":"b","k":248,"v":108.854,"n":752},{"s":"b","k":247,"v":108.807,"n":753},{"s":"b","k":246,"v":108.775,"n":754},{"s":"b","k":244,"v":108.766,"n":756},{"s":"b","k":243,"v":108.691,"n":757},{"s":"b","k":242,"v":108.654,"n":758},{"s":"b","k":241,"v":108.631,"n":759},{"s":"b","k":240,"v":108.577,"n":760},{"s":"b","k":239,"v":108.558,"n":761},{"s":"b","k":238,"v":108.514,"n":762},{"s":"b","k":237,"v":108.465,"n":763},{"s":"b","k":236,"v":108.389,"n":764},{"s":"b","k":235,"v":108.357,"n":765},{"s":"b","k":234,"v":108.341,"n":766},{"s":"b","k":233,"v":108.314,"n":767},{"s":"b","k":231,"v":108.314,"n":769},{"s":"b","k":230,"v":108.272,"n":770},{"s":"b","k":229,"v":108.267,"n":771},{"s":"b","k":228,"v":108.215,"n":772},{"s":"b","k":226,"v":108.215,"n":774},{"s":"b","k":225,"v":108.208,"n":775},{"s":"b","k":224,"v":108.189,"n":776},{"s":"b","k":223,"v":108.189,"n":777},{"s":"b","k":222,"v":108.174,"n":778},{"s":"b","k":215,"v":108.174,"n":785},{"s":"b","k":214,"v":108.134,"n":786},{"s":"b","k":213,"v":108.134,"n":787},{"s":"b","k":212,"v":108.075,"n":788},{"s":"b","k":211,"v":108.075,"n":789},{"s":"b","k":210,"v":108.04,"n":790},{"s":"b","k":208,"v":108.04,"n":792},{"s":"b","k":207,"v":108.012,"n":793},{"s":"b","k":206,"v":107.869,"n":794},{"s":"b","k":205,"v":107.812,"n":795},{"s":"b","k":204,"v":107.783,"n":796},{"s":"b","k":203,"v":107.749,"n":797},{"s":"b","k":202,"v":107.698,"n":798},{"s":"b","k":201,"v":107.646,"n":799},{"s":"b","k":200,"v":107.498,"n":800},{"s":"b","k":199,"v":107.301,"n":801},{"s":"b","k":198,"v":107.272,"n":802},{"s":"b","k":197,"v":107.272,"n":803},{"s":"b","k":196,"v":107.26,"n":804},{"s":"b","k":194,"v":107.253,"n":806},{"s":"b","k":193,"v":107.199,"n":807},{"s":"b","k":191,"v":107.193,"n":809},{"s":"b","k":173,"v":107.193,"n":827},{"s":"b","k":172,"v":107.139,"n":828},{"s":"b","k":171,"v":106.946,"n":829},{"s":"b","k":170,"v":106.883,"n":830},{"s":"b","k":164,"v":106.883,"n":836},{"s":"b","k":163,"v":106.766,"n":837},{"s":"b","k":162,"v":106.721,"n":838},{"s":"b","k":161,"v":106.653,"n":839},{"s":"b","k":160,"v":106.56,"n":840},{"s":"b","k":139,"v":106.56,"n":861},{"s":"b","k":138,"v":106.404,"n":862},{"s":"b","k":130,"v":106.404,"n":870},{"s":"b","k":129,"v":106.231,"n":871},{"s":"b","k":128,"v":106.202,"n":872},{"s":"b","k":127,"v":106.198,"n":873},{"s":"b","k":126,"v":106.17,"n":874},{"s":"b","k":125,"v":105.935,"n":875},{"s":"b","k":124,"v":105.882,"n":876},{"s":"b","k":123,"v":105.819,"n":877},{"s":"b","k":90,"v":105.819,"n":910},{"s":"b","k":89,"v":105.636,"n":911},{"s":"b","k":78,"v":105.636,"n":922},{"s":"b","k":77,"v":105.675,"n":923},{"s":"b","k":75,"v":105.689,"n":925},{"s":"b","k":73,"v":105.689,"n":927},{"s":"b","k":72,"v":105.964,"n":928},{"s":"b","k":66,"v":105.966,"n":934},{"s":"b","k":65,"v":106.274,"n":935},{"s":"b","k":64,"v":106.279,"n":936},{"s":"b","k":63,"v":106.415,"n":937},{"s":"b","k":62,"v":106.446,"n":938},{"s":"b","k":47,"v":106.446,"n":953},{"s":"b","k":46,"v":106.371,"n":954},{"s":"b","k":35,"v":106.371,"n":965},{"s":"b","k":34,"v":106.33,"n":966},{"s":"b","k":33,"v":106.322,"n":967},{"s":"b","k":29,"v":106.322,"n":971},{"s":"b","k":28,"v":106.269,"n":972},{"s":"b","k":20,"v":106.269,"n":980},{"s":"b","k":19,"v":106.23,"n":981},{"s":"b","k":16,"v":106.23,"n":984},{"s":"b","k":15,"v":106.242,"n":985},{"s":"b","k":14,"v":106.26,"n":986},{"s":"b","k":13,"v":106.388,"n":987},{"s":"b","k":12,"v":106.388,"n":988},{"s":"b","k":11,"v":106.418,"n":989},{"s":"b","k":10,"v":106.462,"n":990},{"s":"b","k":-1,"v":106.462,"n":1001}
],
"stk":[
{"k":-0.8,"v":25.5},{"k":1.1,"v":22},{"k":3.5,"v":10.4},{"k":5.4,"v":13.7},{"k":7.2,"v":17.2},{"k":7.8,"v":20},{"k":9.1,"v":35.1},{"k":10.3,"v":32.4},{"k":12,"v":4.3},{"k":13.4,"v":17.2},{"k":15.3,"v":47},{"k":16.5,"v":46.1},{"k":18,"v":35.7},{"k":19.6,"v":52.2},{"k":21.2,"v":54.9},{"k":22,"v":47.5},{"k":23.3,"v":68.2},{"k":24.5,"v":75},{"k":25.4,"v":88.8},{"k":26.4,"v":86.1},{"k":27.3,"v":88},{"k":28.2,"v":86.1},{"k":29.1,"v":87.4},{"k":30.7,"v":70.9},{"k":31.9,"v":59.9},{"k":35,"v":14.5},{"k":36.2,"v":12.6},{"k":38.1,"v":7.6},{"k":39.3,"v":8.2},{"k":40.5,"v":10.9},{"k":41.8,"v":14.5},{"k":43.6,"v":17.2},{"k":44.9,"v":13.1},{"k":46.5,"v":7.6},{"k":47.9,"v":15.9},{"k":49.2,"v":32.4},{"k":50.8,"v":35.7},{"k":52.3,"v":54.4},{"k":54.1,"v":87.4},{"k":55.3,"v":90.2},{"k":57.2,"v":88.8},{"k":58.4,"v":73.7},{"k":59.7,"v":68.2},{"k":60.9,"v":68.2},{"k":62.1,"v":79.2},{"k":64.3,"v":98.5},{"k":65.6,"v":94.3},{"k":66.8,"v":87.4},{"k":68.5,"v":73.7},{"k":70.1,"v":65.4},{"k":72,"v":57.2},{"k":73.2,"v":54.4},{"k":74.7,"v":46.1},{"k":76.3,"v":35.1},{"k":78.2,"v":22},{"k":79.4,"v":26.9},{"k":80.6,"v":29.1},{"k":81.6,"v":22},{"k":82.5,"v":20.8},{"k":84.1,"v":17.2},{"k":85.8,"v":32.4},{"k":87.4,"v":55.8},{"k":88.9,"v":86.1},{"k":90.2,"v":88.3},{"k":91.5,"v":87.4},{"k":92.6,"v":68.2},{"k":93.6,"v":55.8},{"k":94.4,"v":59.9},{"k":95.4,"v":75},{"k":96.4,"v":94.3},{"k":97.9,"v":96.2},{"k":99.1,"v":95.1},{"k":100.6,"v":97.6},{"k":102,"v":91.6},{"k":103.4,"v":86.1},{"k":104.7,"v":84.7},{"k":105.9,"v":87.4},{"k":107.8,"v":76.4},{"k":109,"v":46.1},{"k":110.2,"v":38.4},{"k":112.1,"v":42},{"k":113.3,"v":29.6},{"k":115.2,"v":20.8},{"k":117,"v":37.9},{"k":118.6,"v":53},{"k":119.9,"v":70.9},{"k":121.1,"v":73.7},{"k":122.6,"v":54.4},{"k":124.4,"v":35.1},{"k":126.3,"v":25.5},{"k":127.5,"v":28.3},{"k":128.7,"v":31},{"k":130,"v":48.9},{"k":131.4,"v":76.4},{"k":133.1,"v":79.2},{"k":134.7,"v":88},{"k":136.1,"v":93.5},{"k":137.4,"v":90.2},{"k":139.2,"v":69.5},{"k":140.5,"v":67.6},{"k":142.3,"v":57.2},{"k":144.2,"v":40.6},{"k":146,"v":14.5},{"k":147.2,"v":9},{"k":148.5,"v":9},{"k":150,"v":18.6},{"k":151.2,"v":21.4},{"k":152.2,"v":20},{"k":153.8,"v":46.1},{"k":155.3,"v":66},{"k":156.9,"v":71.5},{"k":158.3,"v":80.6},{"k":159.6,"v":81.9},{"k":161.1,"v":75},{"k":162.7,"v":77.8},{"k":164.5,"v":83.3},{"k":166.4,"v":83.3},{"k":168,"v":76.4},{"k":170.1,"v":71.5},{"k":171.5,"v":79.2},{"k":173.1,"v":94.3},{"k":174.4,"v":91.6},{"k":175.6,"v":96.2},{"k":177.2,"v":99},{"k":178.7,"v":97.1},{"k":180.5,"v":94.3},{"k":181.8,"v":87.4},{"k":183.6,"v":79.7},{"k":184.9,"v":91.6},{"k":186.7,"v":98.5},{"k":188.6,"v":97.1},{"k":190.2,"v":88},{"k":191.6,"v":79.2},{"k":192.6,"v":78.6},{"k":193.9,"v":81.9},{"k":195.1,"v":84.1},{"k":196.1,"v":77},{"k":197.3,"v":75},{"k":198.8,"v":59.9},{"k":200,"v":35.1},{"k":201.3,"v":18.1},{"k":202.3,"v":16.4},{"k":203.7,"v":32.4},{"k":205,"v":50.3},{"k":206.2,"v":58.5},{"k":207.4,"v":62.7},{"k":208.4,"v":59.9},{"k":209.9,"v":70.9},{"k":211.1,"v":84.7},{"k":212.6,"v":91.6},{"k":214.2,"v":94.3},{"k":215.5,"v":87.4},{"k":217.3,"v":83.3},{"k":218.5,"v":87.4},{"k":220.4,"v":84.7},{"k":222,"v":68.2},{"k":223.2,"v":35.1},{"k":225.3,"v":13.1},{"k":226.6,"v":17.2},{"k":228.2,"v":13.1},{"k":229.4,"v":7.6},{"k":230.9,"v":20},{"k":232.1,"v":35.1},{"k":234,"v":34.6},{"k":235.6,"v":44.8},{"k":237,"v":62.1},{"k":238,"v":63.2},{"k":238.9,"v":53},{"k":240.1,"v":46.1},{"k":241.4,"v":42.8},{"k":243.2,"v":51.6},{"k":244.4,"v":57.2},{"k":245.4,"v":57.7},{"k":246.7,"v":65.4},{"k":247.6,"v":77},{"k":248.1,"v":90.7},{"k":250,"v":90.7},{"k":251.2,"v":91.6},{"k":252.5,"v":91.6},{"k":254.1,"v":80.6},{"k":256.2,"v":58.5},{"k":258,"v":50.3},{"k":259.2,"v":44.8},{"k":260.5,"v":31},{"k":262,"v":18.1},{"k":262.3,"v":13.1},{"k":263.6,"v":20},{"k":265.4,"v":25.5},{"k":266.9,"v":35.1},{"k":268.5,"v":59.9},{"k":269.7,"v":86.1},{"k":271,"v":95.1},{"k":272.8,"v":91.6},{"k":274,"v":91.6},{"k":275.3,"v":94.3},{"k":276.5,"v":90.2},{"k":278.4,"v":83.3},{"k":280,"v":77.8},{"k":281.2,"v":81.9},{"k":282.4,"v":86.9},{"k":284.5,"v":85.2},{"k":285.8,"v":91.6},{"k":287.6,"v":91.6},{"k":288.8,"v":95.1},{"k":290.3,"v":95.1},{"k":291.3,"v":90.2},{"k":292.5,"v":79.2},{"k":294,"v":67.6},{"k":295,"v":72.3},{"k":296,"v":84.7},{"k":297.2,"v":93.5},{"k":298.2,"v":92.9},{"k":299.9,"v":68.2},{"k":301.2,"v":53},{"k":302.2,"v":47.5},{"k":303.4,"v":48.9},{"k":304.3,"v":43.4},{"k":305.1,"v":43.4},{"k":306.7,"v":29.6},{"k":308,"v":18.6},{"k":309.2,"v":9.87}
],
"std":[
{"k":-0.8,"v":35.1},{"k":1.1,"v":22.8},{"k":2.9,"v":16.4},{"k":4.8,"v":13.1},{"k":6.6,"v":14.5},{"k":8.5,"v":17.2},{"k":10.3,"v":25.5},{"k":12.8,"v":22.8},{"k":14,"v":21.4},{"k":15.9,"v":33.8},{"k":17.7,"v":42},{"k":19.6,"v":44.8},{"k":21.4,"v":46.1},{"k":22.9,"v":55.8},{"k":24.5,"v":66.8},{"k":26.4,"v":80.6},{"k":28.2,"v":86.1},{"k":30.1,"v":84.7},{"k":31.5,"v":77.8},{"k":33.5,"v":53},{"k":35.2,"v":32.4},{"k":36.8,"v":18.6},{"k":38.4,"v":10.4},{"k":40.5,"v":9.8},{"k":42.4,"v":13.7},{"k":44.9,"v":13.7},{"k":46.5,"v":11.8},{"k":48.3,"v":15.9},{"k":49.8,"v":26.9},{"k":51.6,"v":37.9},{"k":53.5,"v":58.5},{"k":55.3,"v":76.4},{"k":57.2,"v":86.1},{"k":59,"v":77.8},{"k":60.6,"v":72.3},{"k":62.4,"v":75},{"k":64,"v":83.3},{"k":65.8,"v":88.8},{"k":67.7,"v":88.8},{"k":69.5,"v":75},{"k":71.4,"v":65.4},{"k":73.2,"v":58.5},{"k":75.1,"v":51.6},{"k":76.9,"v":37.9},{"k":78.8,"v":26.9},{"k":80.6,"v":26.3},{"k":82.5,"v":22},{"k":84.3,"v":22.8},{"k":86.2,"v":32.4},{"k":88,"v":54.4},{"k":89.9,"v":77.8},{"k":91.7,"v":83.3},{"k":93.2,"v":74.2},{"k":94.8,"v":75},{"k":96.7,"v":86.1},{"k":98.5,"v":93.5},{"k":100.4,"v":97.1},{"k":102.2,"v":92.9},{"k":104.1,"v":88},{"k":105.9,"v":87.4},{"k":107.8,"v":83.3},{"k":109.4,"v":65.4},{"k":110.8,"v":47.5},{"k":112.7,"v":40.6},{"k":114.5,"v":33.8},{"k":116.4,"v":31},{"k":118.2,"v":40.6},{"k":120.1,"v":54.4},{"k":121.9,"v":64},{"k":123.2,"v":58.5},{"k":125,"v":46.1},{"k":126.9,"v":35.1},{"k":128.5,"v":31},{"k":130,"v":36.5},{"k":131.8,"v":57.2},{"k":133.7,"v":76.4},{"k":135.5,"v":84.7},{"k":137.4,"v":86.1},{"k":139.2,"v":80.6},{"k":141.1,"v":72.3},{"k":142.9,"v":58.5},{"k":144.8,"v":40.6},{"k":146.6,"v":24.1},{"k":148.5,"v":15.9},{"k":150.3,"v":14.5},{"k":152.2,"v":17.2},{"k":154,"v":32.4},{"k":155.9,"v":52.2},{"k":157.7,"v":65.4},{"k":159.6,"v":76.4},{"k":161.4,"v":78.6},{"k":163.3,"v":79.2},{"k":165.1,"v":79.7},{"k":167,"v":80.6},{"k":168.8,"v":77},{"k":170.7,"v":79.2},{"k":172.5,"v":86.1},{"k":174.4,"v":93},{"k":176.2,"v":97.1},{"k":178.1,"v":98.5},{"k":179.9,"v":95.7},{"k":181.8,"v":93},{"k":183.6,"v":88},{"k":185.5,"v":93},{"k":187.3,"v":97.1},{"k":189.2,"v":94.3},{"k":191,"v":88.8},{"k":192.6,"v":86.1},{"k":194.5,"v":80.6},{"k":196.3,"v":79.7},{"k":198.2,"v":76.4},{"k":199.8,"v":66.8},{"k":201.5,"v":35.1},{"k":203.5,"v":24.7},{"k":205,"v":32.4},{"k":206.8,"v":44.8},{"k":208.7,"v":57.2},{"k":210.5,"v":64},{"k":212.4,"v":72.3},{"k":214.2,"v":88.8},{"k":216.1,"v":90.7},{"k":217.9,"v":88.8},{"k":219.8,"v":85.2},{"k":221.3,"v":84.7},{"k":222.9,"v":68.2},{"k":224.7,"v":35.1},{"k":226.6,"v":22.8},{"k":228.4,"v":13.7},{"k":230.3,"v":14.5},{"k":232.1,"v":21.4},{"k":234,"v":31},{"k":235.8,"v":40.6},{"k":237.7,"v":50.3},{"k":239.5,"v":55},{"k":241.4,"v":51.6},{"k":243.2,"v":47.5},{"k":245.1,"v":51.1},{"k":246.9,"v":58.5},{"k":248.8,"v":79.2},{"k":250.6,"v":87.4},{"k":252.5,"v":91.6},{"k":254.3,"v":84.7},{"k":256.2,"v":72.3},{"k":258,"v":59.9},{"k":259.9,"v":51.1},{"k":261.7,"v":33.8},{"k":263.6,"v":20},{"k":265.4,"v":20.8},{"k":267.3,"v":32.4},{"k":269.1,"v":51.6},{"k":271,"v":75},{"k":272.8,"v":90.2},{"k":274.7,"v":91.6},{"k":276.5,"v":90.2},{"k":278.4,"v":87.4},{"k":280.2,"v":81.9},{"k":282.1,"v":84.7},{"k":283.9,"v":86.1},{"k":285.8,"v":87.4},{"k":287.6,"v":90.2},{"k":289.5,"v":93.5},{"k":291.3,"v":88.8},{"k":293.2,"v":80.6},{"k":294.8,"v":75.8},{"k":296.2,"v":77.8},{"k":298.1,"v":85.2},{"k":299.7,"v":80.6},{"k":301.2,"v":65.4},{"k":303,"v":54.4},{"k":304.9,"v":46.7},{"k":306.7,"v":40.6},{"k":308.6,"v":28.3},{"k":309.2,"v":27.2}
],
"rlab":[{"s":"kj","v":110.734,"t":"110,734"},{"s":"sa","v":110.682,"t":"110,682"},{"s":"tk","v":110.629,"t":"110,629"},{"s":"sb","v":110.275,"t":"110,275"}]
},
"vconcat":[
{"width":2890,"height":2159,
"view":{"fill":"#eef2fd","stroke":"#9aa5b5"},
"data":{"values":[{}]},
"layer":[
{"mark":{"type":"rect","color":{"gradient":"linear","x1":0,"y1":0,"x2":0,"y2":1,"stops":[{"offset":0,"color":"#fcfdff"},{"offset":1,"color":"#dbe4fb"}]}},"encoding":{"x":{"datum":-0.79,"scale":{"domain":[-0.79,379.5],"nice":false,"zero":false},"axis":null},"x2":{"datum":379.5},"y":{"datum":111.815,"scale":{"domain":[104.38,111.815],"nice":false,"zero":false},"axis":null},"y2":{"datum":104.38}}},
{"data":{"name":"chan"},"mark":{"type":"area","color":"#a9bff2","opacity":0.24,"clip":true},"encoding":{"x":{"field":"k","type":"quantitative","scale":{"domain":[-0.79,379.5],"nice":false,"zero":false},"axis":null},"y":{"field":"hi","type":"quantitative","scale":{"domain":[104.38,111.815],"nice":false,"zero":false},"axis":null},"y2":{"field":"lo"}}},
{"data":{"name":"sen"},"mark":{"type":"line","filled":true,"color":"#80f2ff","opacity":0.45,"clip":true},"encoding":{"x":{"field":"k","type":"quantitative","axis":null},"y":{"field":"v","type":"quantitative","axis":null},"order":{"field":"n","type":"quantitative"}}},
{"data":{"name":"chan"},"mark":{"type":"line","color":"#111111","strokeWidth":1,"clip":true},"encoding":{"x":{"field":"k","type":"quantitative","axis":null},"y":{"field":"lo","type":"quantitative","axis":null}}},
{"data":{"name":"chan"},"mark":{"type":"line","color":"#111111","strokeWidth":1,"clip":true},"encoding":{"x":{"field":"k","type":"quantitative","axis":null},"y":{"field":"hi","type":"quantitative","axis":null}}},
{"mark":{"type":"rule","color":"#000000","strokeWidth":2},"encoding":{"y":{"datum":105.376,"axis":null}}},
{"mark":{"type":"rule","color":"#8c8c8c","strokeWidth":1},"encoding":{"x":{"datum":-0.79,"axis":null},"x2":{"datum":309.1},"y":{"datum":110.154,"axis":null}}},
{"mark":{"type":"rule","color":"#0000ff","strokeWidth":2.5},"encoding":{"x":{"datum":309.1,"axis":null},"x2":{"datum":379.5},"y":{"datum":110.154,"axis":null}}},
{"mark":{"type":"rule","color":"#8c8c8c","strokeWidth":1},"encoding":{"x":{"datum":-0.79,"axis":null},"x2":{"datum":309.1},"y":{"datum":109.452,"axis":null}}},
{"mark":{"type":"rule","color":"#c00000","strokeWidth":1.2},"encoding":{"x":{"datum":309.1,"axis":null},"x2":{"datum":379.5},"y":{"datum":109.452,"axis":null}}},
{"mark":{"type":"rule","color":"#009a3a","strokeWidth":2,"strokeDash":[6,5]},"encoding":{"y":{"datum":110.189,"axis":null}}},
{"data":{"name":"sen"},"transform":[{"filter":"datum.s=='a'"}],"mark":{"type":"line","color":"#d2711c","strokeWidth":2,"clip":true},"encoding":{"x":{"field":"k","type":"quantitative","axis":null},"y":{"field":"v","type":"quantitative","axis":null}}},
{"data":{"name":"sen"},"transform":[{"filter":"datum.s=='b'"}],"mark":{"type":"line","color":"#1ea0ff","strokeWidth":2,"clip":true},"encoding":{"x":{"field":"k","type":"quantitative","axis":null},"y":{"field":"v","type":"quantitative","axis":null}}},
{"data":{"name":"candles"},"mark":{"type":"rule","color":"#2b5a10","strokeWidth":1},"encoding":{"x":{"field":"k","type":"quantitative","axis":null},"y":{"field":"l","type":"quantitative","axis":null},"y2":{"field":"h"}}},
{"data":{"name":"candles"},"mark":{"type":"bar","width":4.6,"strokeWidth":1},"encoding":{"x":{"field":"k","type":"quantitative","axis":null},"y":{"field":"o","type":"quantitative","scale":{"domain":[104.38,111.815],"nice":false,"zero":false},"axis":null},"y2":{"field":"c"},"fill":{"condition":{"test":"datum.c>=datum.o","value":"#2f8c10"},"value":"#ff2424"},"stroke":{"condition":{"test":"datum.c>=datum.o","value":"#1b4a06"},"value":"#6e1a08"}}},
{"data":{"name":"kj"},"mark":{"type":"line","color":"#0000c8","strokeWidth":2,"clip":true},"encoding":{"x":{"field":"k","type":"quantitative","axis":null},"y":{"field":"v","type":"quantitative","axis":null}}},
{"data":{"name":"tk"},"mark":{"type":"line","color":"#ff0000","strokeWidth":2,"clip":true},"encoding":{"x":{"field":"k","type":"quantitative","axis":null},"y":{"field":"v","type":"quantitative","axis":null}}},
{"data":{"name":"candles"},"mark":{"type":"line","color":"#000000","strokeWidth":2.6,"clip":true},"encoding":{"x":{"field":"k","type":"quantitative","axis":null},"y":{"field":"ck","type":"quantitative","axis":null}}},
{"data":{"name":"yt"},"mark":{"type":"rule","color":"#444444","strokeWidth":1},"encoding":{"x":{"datum":379.5,"axis":null},"x2":{"datum":380.05},"y":{"field":"v","type":"quantitative","axis":null}}},
{"data":{"name":"yt"},"transform":[{"filter":"datum.v!=110"}],"mark":{"type":"text","align":"left","baseline":"middle","fontSize":11,"color":"#000000"},"encoding":{"x":{"datum":380.3,"axis":null},"y":{"field":"v","type":"quantitative","axis":null},"text":{"field":"t"}}},
{"data":{"name":"yt"},"transform":[{"filter":"datum.v==110"}],"mark":{"type":"text","align":"left","baseline":"middle","fontSize":13,"fontWeight":"bold","color":"#000000"},"encoding":{"x":{"datum":380.3,"axis":null},"y":{"field":"v","type":"quantitative","axis":null},"text":{"field":"t"}}},
{"mark":{"type":"text","align":"left","baseline":"bottom","fontSize":10,"dy":-1,"color":"#000000"},"encoding":{"x":{"datum":-0.6,"axis":null},"y":{"datum":105.376,"axis":null},"text":{"value":"105,376"}}},
{"mark":{"type":"text","align":"left","baseline":"bottom","fontSize":11,"color":"#000000"},"encoding":{"x":{"datum":-0.6,"axis":null},"y":{"datum":104.386,"axis":null},"text":{"value":"© ProRealTime Trading"}}},
{"mark":{"type":"rect","color":{"gradient":"linear","x1":0,"y1":0,"x2":0,"y2":1,"stops":[{"offset":0,"color":"#f4f8fb"},{"offset":1,"color":"#d3dfe9"}]},"stroke":"#98a8b8","strokeWidth":1},"encoding":{"x":{"datum":-0.79,"axis":null},"x2":{"datum":386.1},"y":{"datum":111.888,"axis":null},"y2":{"datum":111.815}}},
{"mark":{"type":"rect","color":"#e05050","stroke":"#7a2020"},"encoding":{"x":{"datum":-0.35,"axis":null},"x2":{"datum":0.45},"y":{"datum":111.866,"axis":null},"y2":{"datum":111.836}}},
{"mark":{"type":"rect","color":"#44dd44","stroke":"#1f6a1f"},"encoding":{"x":{"datum":0.9,"axis":null},"x2":{"datum":1.7},"y":{"datum":111.878,"axis":null},"y2":{"datum":111.84}}},
{"mark":{"type":"text","align":"left","baseline":"middle","fontSize":11.5,"color":"#000000"},"encoding":{"x":{"datum":2.4,"axis":null},"y":{"datum":111.852,"axis":null},"text":{"value":"Spot USD/JPY    4 heures    110,189 (-0,50%)    23 mai 2018 09:48:29"}}},
{"mark":{"type":"text","align":"right","baseline":"middle","fontSize":11.5,"color":"#000000"},"encoding":{"x":{"datum":385.9,"axis":null},"y":{"datum":111.852,"axis":null},"text":{"value":"Trading.ProRealTime.com"}}},
{"mark":{"type":"rect","color":"#e6eaef","stroke":"#9aa5b5"},"encoding":{"x":{"datum":-0.79,"axis":null},"x2":{"datum":2.3},"y":{"datum":111.815,"axis":null},"y2":{"datum":111.772}}},
{"mark":{"type":"text","align":"center","baseline":"middle","fontSize":10,"color":"#000000"},"encoding":{"x":{"datum":0.75,"axis":null},"y":{"datum":111.7935,"axis":null},"text":{"value":"Prix"}}},
{"mark":{"type":"rect","color":"#74e474","stroke":"#3c9a3c"},"encoding":{"x":{"datum":-0.53,"axis":null},"x2":{"datum":6.55},"y":{"datum":110.211,"axis":null},"y2":{"datum":110.148}}},
{"mark":{"type":"rect","color":"#f2f2f2","stroke":"#a0a8b0"},"encoding":{"x":{"datum":6.55,"axis":null},"x2":{"datum":8.86},"y":{"datum":110.211,"axis":null},"y2":{"datum":110.148}}},
{"mark":{"type":"rect","color":"#f4f4f4","stroke":"#a0a8b0"},"encoding":{"x":{"datum":-0.53,"axis":null},"x2":{"datum":10.7},"y":{"datum":110.148,"axis":null},"y2":{"datum":110.083}}},
{"mark":{"type":"text","align":"center","baseline":"middle","fontSize":11,"fontWeight":"bold","color":"#000000"},"encoding":{"x":{"datum":3.0,"axis":null},"y":{"datum":110.18,"axis":null},"text":{"value":"110,154"}}},
{"mark":{"type":"text","align":"center","baseline":"middle","fontSize":11,"fontWeight":"bold","color":"#d03030"},"encoding":{"x":{"datum":7.7,"axis":null},"y":{"datum":110.18,"axis":null},"text":{"value":"✖"}}},
{"mark":{"type":"text","align":"center","baseline":"middle","fontSize":10.5,"fontWeight":"bold","color":"#1d7a1d"},"encoding":{"x":{"datum":2.2,"axis":null},"y":{"datum":110.116,"axis":null},"text":{"value":"+0,034"}}},
{"mark":{"type":"text","align":"center","baseline":"middle","fontSize":10.5,"color":"#1d7a1d"},"encoding":{"x":{"datum":7.8,"axis":null},"y":{"datum":110.116,"axis":null},"text":{"value":"3,4 pips"}}},
{"mark":{"type":"rect","color":"#e04848","stroke":"#a02020"},"encoding":{"x":{"datum":-0.53,"axis":null},"x2":{"datum":1.45},"y":{"datum":109.485,"axis":null},"y2":{"datum":109.414}}},
{"mark":{"type":"rect","color":"#f7a8a8","stroke":"#c04040"},"encoding":{"x":{"datum":1.45,"axis":null},"x2":{"datum":13.0},"y":{"datum":109.485,"axis":null},"y2":{"datum":109.414}}},
{"mark":{"type":"rect","color":"#f4f4f4","stroke":"#a0a8b0"},"encoding":{"x":{"datum":13.0,"axis":null},"x2":{"datum":21.8},"y":{"datum":109.485,"axis":null},"y2":{"datum":109.414}}},
{"mark":{"type":"text","align":"center","baseline":"middle","fontSize":12,"fontWeight":"bold","color":"#ffffff"},"encoding":{"x":{"datum":0.46,"axis":null},"y":{"datum":109.45,"axis":null},"text":{"value":"↕"}}},
{"mark":{"type":"text","align":"center","baseline":"middle","fontSize":11,"color":"#000000"},"encoding":{"x":{"datum":7.2,"axis":null},"y":{"datum":109.45,"axis":null},"text":{"value":"V:STP   109,452"}}},
{"mark":{"type":"text","align":"center","baseline":"middle","fontSize":11,"color":"#a01010"},"encoding":{"x":{"datum":16.2,"axis":null},"y":{"datum":109.45,"axis":null},"text":{"value":"70,2 pips"}}},
{"mark":{"type":"text","align":"center","baseline":"middle","fontSize":11,"fontWeight":"bold","color":"#d03030"},"encoding":{"x":{"datum":20.5,"axis":null},"y":{"datum":109.45,"axis":null},"text":{"value":"✖"}}},
{"data":{"name":"rlab"},"mark":{"type":"point","shape":"M-1,-0.34H1V0.34H-1Z","size":1936,"filled":true,"color":"#e4e9f1","stroke":"#8b97a8","strokeWidth":1,"opacity":1},"encoding":{"x":{"datum":382.9,"axis":null},"y":{"field":"v","type":"quantitative","axis":null}}},
{"data":{"name":"rlab"},"mark":{"type":"text","align":"center","baseline":"middle","fontSize":11},"encoding":{"x":{"datum":382.9,"axis":null},"y":{"field":"v","type":"quantitative","axis":null},"text":{"field":"t"},"color":{"field":"s","type":"nominal","scale":{"domain":["kj","sa","tk","sb"],"range":["#0000cc","#cc6600","#ff0000","#1e9bff"]},"legend":null}}},
{"mark":{"type":"point","shape":"M-1,-0.34H1V0.34H-1Z","size":1936,"filled":true,"color":"#ffd200","stroke":"#a08400","strokeWidth":1,"opacity":1},"encoding":{"x":{"datum":382.9,"axis":null},"y":{"datum":110.218,"axis":null}}},
{"mark":{"type":"text","align":"center","baseline":"middle","fontSize":11,"color":"#000000"},"encoding":{"x":{"datum":382.9,"axis":null},"y":{"datum":110.218,"axis":null},"text":{"value":"110,189"}}},
{"mark":{"type":"point","shape":"M-1,-0.34H1V0.34H-1Z","size":1936,"filled":true,"color":"#e4e9f1","stroke":"#8b97a8","strokeWidth":1,"opacity":1},"encoding":{"x":{"datum":382.9,"axis":null},"y":{"datum":110.162,"axis":null}}},
{"mark":{"type":"text","align":"center","baseline":"middle","fontSize":11,"color":"#000000"},"encoding":{"x":{"datum":382.9,"axis":null},"y":{"datum":110.162,"axis":null},"text":{"value":"110,189"}}}
]},
{"width":2890,"height":135,
"view":{"fill":"#dae3fb","stroke":"#9aa5b5"},
"data":{"values":[{}]},
"layer":[
{"mark":{"type":"rule","color":"#2a35c8","strokeWidth":2},"encoding":{"y":{"datum":80,"axis":null}}},
{"mark":{"type":"rule","color":"#2a35c8","strokeWidth":2},"encoding":{"y":{"datum":20,"axis":null}}},
{"data":{"name":"std"},"mark":{"type":"line","color":"#ff4a4a","strokeWidth":1.2,"strokeDash":[4,3],"clip":true},"encoding":{"x":{"field":"k","type":"quantitative","scale":{"domain":[-0.79,379.5],"nice":false,"zero":false},"axis":null},"y":{"field":"v","type":"quantitative","scale":{"domain":[-5.4,105.5],"nice":false,"zero":false},"axis":null}}},
{"data":{"name":"stk"},"mark":{"type":"line","color":"#000000","strokeWidth":1.3,"clip":true},"encoding":{"x":{"field":"k","type":"quantitative","axis":null},"y":{"field":"v","type":"quantitative","axis":null}}},
{"data":{"name":"st"},"mark":{"type":"rule","color":"#444444","strokeWidth":1},"encoding":{"x":{"datum":379.5,"axis":null},"x2":{"datum":380.05},"y":{"field":"v","type":"quantitative","axis":null}}},
{"data":{"name":"st"},"mark":{"type":"text","align":"left","baseline":"middle","fontSize":11,"color":"#000000"},"encoding":{"x":{"datum":380.3,"axis":null},"y":{"field":"v","type":"quantitative","axis":null},"text":{"field":"t"}}},
{"data":{"name":"xt"},"mark":{"type":"rule","color":"#444444","strokeWidth":1},"encoding":{"x":{"field":"k","type":"quantitative","axis":null},"y":{"datum":-5.4,"axis":null},"y2":{"datum":-8.7}}},
{"data":{"name":"xt"},"transform":[{"filter":"datum.t!='avr.'&&datum.t!='mai'&&datum.t!='juin'"}],"mark":{"type":"text","align":"center","baseline":"top","fontSize":11,"color":"#000000"},"encoding":{"x":{"field":"k","type":"quantitative","axis":null},"y":{"datum":-9.6,"axis":null},"text":{"field":"t"}}},
{"data":{"name":"xt"},"transform":[{"filter":"datum.t=='avr.'||datum.t=='mai'||datum.t=='juin'"}],"mark":{"type":"text","align":"center","baseline":"top","fontSize":11,"fontWeight":"bold","color":"#000000"},"encoding":{"x":{"field":"k","type":"quantitative","axis":null},"y":{"datum":-9.6,"axis":null},"text":{"field":"t"}}},
{"mark":{"type":"rect","color":"#e6eaef","stroke":"#9aa5b5"},"encoding":{"x":{"datum":-0.79,"axis":null},"x2":{"datum":6.0},"y":{"datum":105.3,"axis":null},"y2":{"datum":95.6}}},
{"mark":{"type":"rect","color":"#e6eaef","stroke":"#9aa5b5"},"encoding":{"x":{"datum":6.0,"axis":null},"x2":{"datum":18.7},"y":{"datum":105.3,"axis":null},"y2":{"datum":95.6}}},
{"mark":{"type":"text","align":"center","baseline":"middle","fontSize":10,"color":"#000000"},"encoding":{"x":{"datum":2.6,"axis":null},"y":{"datum":100.4,"axis":null},"text":{"value":"Stoch %K"}}},
{"mark":{"type":"text","align":"center","baseline":"middle","fontSize":10,"color":"#ff5050"},"encoding":{"x":{"datum":12.35,"axis":null},"y":{"datum":100.4,"axis":null},"text":{"value":"Stoch %D ( 14 3 5)"}}},
{"mark":{"type":"point","shape":"M-1,-0.27H1V0.27H-1Z","size":1600,"filled":true,"color":"#e4e9f1","stroke":"#8b97a8","strokeWidth":1,"opacity":1},"encoding":{"x":{"datum":382.7,"axis":null},"y":{"datum":27.233,"axis":null}}},
{"mark":{"type":"text","align":"center","baseline":"middle","fontSize":10.5,"color":"#ff3030"},"encoding":{"x":{"datum":382.7,"axis":null},"y":{"datum":27.233,"axis":null},"text":{"value":"27,233"}}},
{"mark":{"type":"point","shape":"M-1,-0.27H1V0.27H-1Z","size":1600,"filled":true,"color":"#e4e9f1","stroke":"#8b97a8","strokeWidth":1,"opacity":1},"encoding":{"x":{"datum":382.7,"axis":null},"y":{"datum":8.6,"axis":null}}},
{"mark":{"type":"text","align":"center","baseline":"middle","fontSize":10.5,"color":"#000000"},"encoding":{"x":{"datum":382.7,"axis":null},"y":{"datum":8.6,"axis":null},"text":{"value":"9,8710"}}}
]}
]
}
